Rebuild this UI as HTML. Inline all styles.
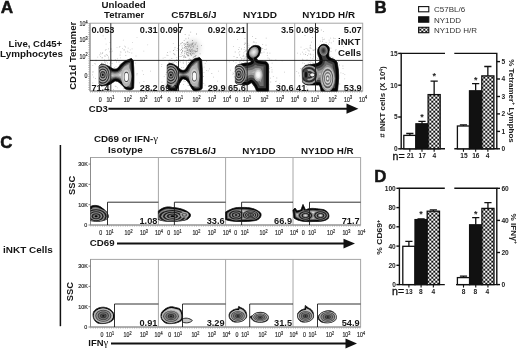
<!DOCTYPE html>
<html lang="en">
<head>
<meta charset="utf-8">
<title>Figure</title>
<style>
html,body{margin:0;padding:0;background:#fff;}
body{width:520px;height:349px;overflow:hidden;}
svg{display:block;font-family:"Liberation Sans",sans-serif;}
</style>
</head>
<body>
<svg width="520" height="349" viewBox="0 0 520 349">
<defs>
<pattern id="ck" x="1.3" y="0.7" width="4" height="4" patternUnits="userSpaceOnUse">
<rect width="4" height="4" fill="#111"/>
<rect x="0" y="0" width="2" height="2" fill="#fff"/>
<rect x="2" y="2" width="2" height="2" fill="#fff"/>
</pattern>
<filter id="bl" x="-50%" y="-50%" width="200%" height="200%"><feGaussianBlur stdDeviation="2.5"/></filter>
<clipPath id="b1"><path d="M99.2,66 L101.5,64 C106,64.6 109,66.5 111.5,68 C114,69.6 116,69.6 118,68 C121,64 124,61 127,60.2 L131.5,58.5 L133.3,61 C134,70 134,80 133.6,88 C132,90.5 128,90 125.5,89 C123,86 122,85 120.5,83.6 C118,81 116,80.6 114.5,81.2 C112,83 110,84.4 108,85 L101,86 L99.2,84 Z"/></clipPath>
<clipPath id="b2"><path d="M167.3,65 L169.7,63.2 C173.7,63.8 176.7,66 179.2,68.4 C181.7,70.8 183.7,71 185.7,69.2 C188.7,64 191.7,60 195.2,58.6 L199.7,57.6 L201.6,60 C202.5,70 202.5,80 202.1,88.5 C200.2,91 195.7,91 193.2,90.4 C190.7,87 189.7,84.4 188.2,82 C185.7,79 183.7,78.4 182.2,79.2 C179.7,81.6 178.7,86 176.7,90.4 L169.2,90.4 L167.3,86 Z"/></clipPath>
<clipPath id="b3"><path d="M235.4,67.5 L236.5,65.5 C239.6,64.4 242.6,63.6 245.0,63.2 C247.6,63 250.0,63 251.2,61.7 C251.0,60 249.4,59.6 248.9,59.3 C247.2,57.4 246.6,55.2 247.3,53.2 C248.6,49 251.6,45.6 255.1,45.4 C258.2,45.3 260.8,46.4 260.8,48.5 C260.8,51.4 259.8,53.6 259.0,55.5 C258.2,56.8 257.0,57.6 256.6,58.3 C256.8,59.8 258.0,60.6 259.0,60.9 L265.9,61.7 C267.6,62.6 268.6,64.4 268.6,66.3 L268.6,91 L256.6,91 C255.6,88 254.2,85 251.2,82.6 C250.0,83.6 248.6,84.6 247.3,84.9 L237.3,84.1 L235.4,82.6 Z"/></clipPath>
<clipPath id="b4"><path d="M302.2,68.6 L305.3,65.5 C308.7,64.6 312.7,64.4 315.3,64 C318.3,63.4 320.3,62 320.0,60.1 C319.3,57 317.3,54 317.7,50.8 C318.3,47 320.7,44.3 323.9,44.3 C327.3,44.4 329.5,46.6 329.3,49.3 C329.1,52 328.3,54.4 328.8,56.3 C329.7,58.4 332.1,58.6 333.9,59.3 C336.3,60.4 337.5,62.6 337.5,64.8 C338.5,70 338.7,74 338.6,78.7 L337.5,91 L321.1,91 C320.7,88.6 320.3,86.4 319.2,84.9 L307.6,84.9 C305.1,84.4 303.3,83.4 302.5,81.8 Z"/></clipPath>
<clipPath id="b5"><path d="M90.5,206.6 C93.5,204.8 98.5,205 101.5,207.6 C105.5,210.6 109.0,213.6 108.1,217.6 C105.5,221.6 96.5,222 90.5,220.6 Z"/></clipPath>
<clipPath id="b6"><path d="M158.4,211 C162.4,207.5 167.4,206 172.4,207.5 C178.4,208 184.4,209 189.4,213 C191.9,215.5 189.4,219 185.4,220 C176.4,222 164.4,222 158.4,219.5 Z"/></clipPath>
<clipPath id="b7"><path d="M225.6,212 C230.6,209 235.6,207 241.6,207.5 C249.6,207 256.6,209 260.6,213 C262.1,216 259.6,219.5 255.6,220.5 C245.6,222 231.6,222 225.6,219.5 Z"/></clipPath>
<clipPath id="b8"><path d="M293.0,210 L295.0,208 L297.0,211 L301.0,210 L303.0,204.5 L305.5,210 C311.0,207 317.0,209 323.0,209.5 C327.0,210.5 330.0,214 328.5,218 C326.0,221.5 319.0,221.5 313.0,221.5 C305.0,222 298.0,221 294.0,218 Z"/></clipPath>
<clipPath id="b9"><path d="M93.5,312 C95.5,308.5 100.5,306.5 105.5,307.5 C111.5,309 115.0,313 114.0,318 C112.5,322.5 105.5,324 99.5,323.5 C94.5,322.5 92.0,317 93.5,312 Z"/></clipPath>
<clipPath id="b10"><path d="M161.4,313 C163.4,309 169.4,306 173.4,307 L179.4,308.5 C182.4,311 182.9,316 182.4,319 C180.4,323 172.4,324 167.4,323.5 C162.4,322.5 159.9,318 161.4,313 Z"/></clipPath>
<clipPath id="b11"><path d="M229.6,313 C231.6,310 235.6,308.5 238.1,309 L238.6,306.5 L241.6,308 C245.6,309.5 247.1,313 246.6,317 C244.6,321.5 238.6,322.5 234.6,322 C230.1,321 228.1,317 229.6,313 Z"/></clipPath>
<clipPath id="b12"><path d="M249.9,317 L252.6,315.5 C255.6,312 261.6,311.5 265.6,313.5 C269.1,315.5 269.1,319 266.6,321 C262.6,323 255.6,322.5 253.1,320.5 Z"/></clipPath>
<clipPath id="b13"><path d="M298.0,313 C300.0,310 303.0,309 305.0,309 L305.3,305.5 L308.5,308 C312.5,309.5 314.0,313 313.5,317 C312.0,321.5 306.0,322.5 302.5,322 C298.5,321 296.5,317 298.0,313 Z"/></clipPath>
<clipPath id="b14"><path d="M318.3,316.5 C320.0,312.5 326.0,310 331.0,311 C336.0,312.5 337.5,317 335.5,320 C332.0,323.5 324.0,323.5 320.5,321.5 C318.5,320 317.8,318 318.3,316.5 Z"/></clipPath>
</defs>
<rect width="520" height="349" fill="#fff"/>
<text x="0.7" y="13" font-size="16.8" font-weight="bold" textLength="12.4" lengthAdjust="spacingAndGlyphs" fill="#151515" stroke="#151515" stroke-width="0.5">A</text>
<text x="374.6" y="13.3" font-size="16.8" font-weight="bold" fill="#151515" stroke="#151515" stroke-width="0.5">B</text>
<text x="0.3" y="147.6" font-size="16.8" font-weight="bold" fill="#151515" stroke="#151515" stroke-width="0.5">C</text>
<text x="374.2" y="182.2" font-size="16.8" font-weight="bold" fill="#151515" stroke="#151515" stroke-width="0.5">D</text>
<text x="8.6" y="46.7" font-size="9.5" font-weight="bold" textLength="53.6" lengthAdjust="spacingAndGlyphs" fill="#151515">Live, Cd45+</text>
<text x="0.1" y="57.4" font-size="9.5" font-weight="bold" textLength="62.9" lengthAdjust="spacingAndGlyphs" fill="#151515">Lymphocytes</text>
<text x="76" y="89.8" font-size="9.5" font-weight="bold" textLength="68" lengthAdjust="spacingAndGlyphs" transform="rotate(-90 76 89.8)" fill="#151515">CD1d Tetramer</text>
<text x="101.5" y="7.6" font-size="9.5" font-weight="bold" textLength="44.2" lengthAdjust="spacingAndGlyphs" fill="#151515">Unloaded</text>
<text x="104.0" y="18.4" font-size="9.5" font-weight="bold" textLength="40.2" lengthAdjust="spacingAndGlyphs" fill="#151515">Tetramer</text>
<text x="171.2" y="18.4" font-size="9.5" font-weight="bold" textLength="45.4" lengthAdjust="spacingAndGlyphs" fill="#151515">C57BL6/J</text>
<text x="242.9" y="18.4" font-size="9.5" font-weight="bold" textLength="34" lengthAdjust="spacingAndGlyphs" fill="#151515">NY1DD</text>
<text x="302.2" y="18.1" font-size="9.5" font-weight="bold" textLength="52.8" lengthAdjust="spacingAndGlyphs" fill="#151515">NY1DD H/R</text>
<g fill="none" stroke="#a6a6a6" stroke-width="1">
<rect x="90" y="23.2" width="272.7" height="67.8"/>
<line x1="158.7" y1="23.2" x2="158.7" y2="91"/>
<line x1="226.6" y1="23.2" x2="226.6" y2="91"/>
<line x1="294.7" y1="23.2" x2="294.7" y2="91"/>
</g>
<path d="M89 23.2V91" stroke="#8a8a8a" stroke-width="1.2" stroke-dasharray="0.7 1.5" fill="none"/>
<path d="M90 92H362.7" stroke="#8a8a8a" stroke-width="1.2" stroke-dasharray="0.7 1.6" fill="none"/>
<path d="M90 23.2V91H362.7" stroke="#8c8c8c" stroke-width="1" fill="none"/>
<path d="M103.6 68.9h0.8v0.8h-0.8zM108.2 70.5h0.8v0.8h-0.8zM125.4 55.1h0.8v0.8h-0.8zM111.6 68.7h0.8v0.8h-0.8zM104.5 72.7h0.8v0.8h-0.8zM119.9 73.9h0.8v0.8h-0.8zM127.3 62.5h0.8v0.8h-0.8zM108.2 80.1h0.8v0.8h-0.8zM109.5 63.2h0.8v0.8h-0.8zM108.5 59.1h0.8v0.8h-0.8zM130.9 87.9h0.8v0.8h-0.8zM150.1 70.8h0.8v0.8h-0.8zM113.0 71.8h0.8v0.8h-0.8zM123.0 74.2h0.8v0.8h-0.8zM126.3 70.6h0.8v0.8h-0.8zM109.5 86.8h0.8v0.8h-0.8zM111.6 75.6h0.8v0.8h-0.8zM94.4 63.3h0.8v0.8h-0.8zM121.1 80.5h0.8v0.8h-0.8zM113.0 75.6h0.8v0.8h-0.8zM92.0 74.4h0.8v0.8h-0.8zM107.2 62.6h0.8v0.8h-0.8zM120.5 69.1h0.8v0.8h-0.8zM104.5 69.6h0.8v0.8h-0.8zM110.9 70.8h0.8v0.8h-0.8zM116.9 69.1h0.8v0.8h-0.8zM129.1 70.2h0.8v0.8h-0.8zM107.6 78.2h0.8v0.8h-0.8zM113.2 89.1h0.8v0.8h-0.8zM118.8 79.0h0.8v0.8h-0.8zM108.5 75.8h0.8v0.8h-0.8zM101.7 57.6h0.8v0.8h-0.8zM118.6 61.6h0.8v0.8h-0.8zM108.0 83.6h0.8v0.8h-0.8zM136.5 74.5h0.8v0.8h-0.8zM110.4 82.4h0.8v0.8h-0.8zM128.4 79.8h0.8v0.8h-0.8zM104.8 68.6h0.8v0.8h-0.8zM129.3 62.0h0.8v0.8h-0.8zM116.9 87.4h0.8v0.8h-0.8zM129.3 66.9h0.8v0.8h-0.8zM112.2 71.6h0.8v0.8h-0.8zM101.6 74.8h0.8v0.8h-0.8zM105.0 80.7h0.8v0.8h-0.8zM102.1 67.0h0.8v0.8h-0.8zM108.2 74.4h0.8v0.8h-0.8zM113.0 75.5h0.8v0.8h-0.8zM132.1 74.2h0.8v0.8h-0.8zM121.4 75.5h0.8v0.8h-0.8zM127.1 81.6h0.8v0.8h-0.8zM131.0 73.4h0.8v0.8h-0.8zM102.5 77.0h0.8v0.8h-0.8zM101.8 73.9h0.8v0.8h-0.8zM111.9 50.8h0.8v0.8h-0.8zM111.6 63.1h0.8v0.8h-0.8zM99.2 54.5h0.8v0.8h-0.8zM121.4 80.7h0.8v0.8h-0.8zM101.5 62.6h0.8v0.8h-0.8zM105.2 62.6h0.8v0.8h-0.8zM123.1 63.0h0.8v0.8h-0.8zM127.8 47.7h0.8v0.8h-0.8zM92.4 82.6h0.8v0.8h-0.8zM110.6 51.4h0.8v0.8h-0.8zM143.5 81.0h0.8v0.8h-0.8zM119.5 46.0h0.8v0.8h-0.8zM126.6 72.9h0.8v0.8h-0.8zM112.5 68.7h0.8v0.8h-0.8zM91.9 60.1h0.8v0.8h-0.8zM120.3 83.5h0.8v0.8h-0.8zM123.5 77.5h0.8v0.8h-0.8zM117.5 78.8h0.8v0.8h-0.8zM143.2 74.0h0.8v0.8h-0.8zM95.1 78.1h0.8v0.8h-0.8zM110.7 61.4h0.8v0.8h-0.8zM99.0 81.5h0.8v0.8h-0.8zM106.4 71.0h0.8v0.8h-0.8zM104.0 85.6h0.8v0.8h-0.8zM109.8 68.6h0.8v0.8h-0.8zM95.6 59.7h0.8v0.8h-0.8zM129.1 62.4h0.8v0.8h-0.8zM128.3 78.9h0.8v0.8h-0.8zM119.7 76.0h0.8v0.8h-0.8zM115.6 86.1h0.8v0.8h-0.8zM117.1 58.5h0.8v0.8h-0.8zM100.5 73.5h0.8v0.8h-0.8zM114.8 85.8h0.8v0.8h-0.8zM104.6 88.9h0.8v0.8h-0.8zM101.9 75.3h0.8v0.8h-0.8zM101.3 75.8h0.8v0.8h-0.8zM108.3 57.7h0.8v0.8h-0.8zM120.2 63.4h0.8v0.8h-0.8zM125.1 46.6h0.8v0.8h-0.8zM136.7 73.2h0.8v0.8h-0.8zM139.1 82.5h0.8v0.8h-0.8zM117.2 72.3h0.8v0.8h-0.8zM110.6 82.6h0.8v0.8h-0.8zM114.9 58.9h0.8v0.8h-0.8zM114.3 80.9h0.8v0.8h-0.8zM118.9 78.3h0.8v0.8h-0.8zM123.7 49.1h0.8v0.8h-0.8zM124.1 71.8h0.8v0.8h-0.8zM103.4 68.8h0.8v0.8h-0.8zM141.9 70.5h0.8v0.8h-0.8zM124.7 74.7h0.8v0.8h-0.8zM125.8 62.3h0.8v0.8h-0.8zM92.6 71.1h0.8v0.8h-0.8zM118.9 46.7h0.8v0.8h-0.8zM114.1 77.0h0.8v0.8h-0.8zM114.5 70.7h0.8v0.8h-0.8zM92.4 65.3h0.8v0.8h-0.8zM101.9 83.0h0.8v0.8h-0.8zM119.6 79.7h0.8v0.8h-0.8zM95.6 60.4h0.8v0.8h-0.8zM119.3 74.0h0.8v0.8h-0.8zM129.7 67.7h0.8v0.8h-0.8zM108.4 83.0h0.8v0.8h-0.8zM105.4 69.2h0.8v0.8h-0.8zM111.2 59.5h0.8v0.8h-0.8zM109.5 42.3h0.8v0.8h-0.8zM121.2 64.9h0.8v0.8h-0.8zM102.6 69.6h0.8v0.8h-0.8zM120.7 85.0h0.8v0.8h-0.8zM123.1 88.4h0.8v0.8h-0.8zM119.3 64.0h0.8v0.8h-0.8zM113.0 76.5h0.8v0.8h-0.8zM126.6 77.0h0.8v0.8h-0.8zM119.9 72.9h0.8v0.8h-0.8zM124.2 88.0h0.8v0.8h-0.8zM110.7 79.4h0.8v0.8h-0.8zM119.6 72.9h0.8v0.8h-0.8zM104.8 67.3h0.8v0.8h-0.8zM111.2 80.0h0.8v0.8h-0.8zM122.9 83.6h0.8v0.8h-0.8zM116.2 61.6h0.8v0.8h-0.8zM120.6 51.7h0.8v0.8h-0.8zM104.2 68.4h0.8v0.8h-0.8zM111.5 77.1h0.8v0.8h-0.8zM122.3 72.6h0.8v0.8h-0.8z" fill="#555" opacity="0.4"/>
<path d="M109.1 51.5h0.8v0.8h-0.8zM104.9 38.4h0.8v0.8h-0.8zM103.6 74.2h0.8v0.8h-0.8zM110.7 48.6h0.8v0.8h-0.8zM101.8 57.3h0.8v0.8h-0.8zM93.2 76.8h0.8v0.8h-0.8zM106.8 65.3h0.8v0.8h-0.8zM108.2 56.6h0.8v0.8h-0.8zM104.9 68.4h0.8v0.8h-0.8zM107.0 55.1h0.8v0.8h-0.8zM99.0 66.2h0.8v0.8h-0.8zM105.6 49.1h0.8v0.8h-0.8zM108.6 66.4h0.8v0.8h-0.8zM105.7 61.0h0.8v0.8h-0.8zM106.3 74.3h0.8v0.8h-0.8zM102.7 75.0h0.8v0.8h-0.8zM105.0 64.3h0.8v0.8h-0.8zM110.2 62.3h0.8v0.8h-0.8zM105.8 54.5h0.8v0.8h-0.8zM104.1 61.6h0.8v0.8h-0.8zM101.9 53.3h0.8v0.8h-0.8zM107.8 70.9h0.8v0.8h-0.8zM100.5 53.6h0.8v0.8h-0.8zM107.3 71.7h0.8v0.8h-0.8zM100.0 56.3h0.8v0.8h-0.8zM108.7 79.8h0.8v0.8h-0.8zM108.0 48.4h0.8v0.8h-0.8zM109.3 59.7h0.8v0.8h-0.8zM102.9 64.1h0.8v0.8h-0.8zM100.2 52.4h0.8v0.8h-0.8zM92.5 72.2h0.8v0.8h-0.8zM105.1 55.8h0.8v0.8h-0.8zM104.2 59.6h0.8v0.8h-0.8zM102.0 52.9h0.8v0.8h-0.8zM102.7 35.5h0.8v0.8h-0.8zM97.3 56.8h0.8v0.8h-0.8zM109.6 65.0h0.8v0.8h-0.8zM107.3 67.4h0.8v0.8h-0.8zM103.2 63.4h0.8v0.8h-0.8zM104.0 55.6h0.8v0.8h-0.8z" fill="#555" opacity="0.4"/>
<path d="M168.8 78.2h0.8v0.8h-0.8zM197.6 68.4h0.8v0.8h-0.8zM167.4 73.3h0.8v0.8h-0.8zM190.9 86.1h0.8v0.8h-0.8zM168.9 59.8h0.8v0.8h-0.8zM193.9 79.2h0.8v0.8h-0.8zM204.6 84.8h0.8v0.8h-0.8zM183.4 71.0h0.8v0.8h-0.8zM218.1 70.8h0.8v0.8h-0.8zM174.5 61.5h0.8v0.8h-0.8zM185.9 75.6h0.8v0.8h-0.8zM180.2 73.3h0.8v0.8h-0.8zM188.3 81.6h0.8v0.8h-0.8zM199.0 76.3h0.8v0.8h-0.8zM161.4 81.7h0.8v0.8h-0.8zM166.2 72.1h0.8v0.8h-0.8zM165.5 74.0h0.8v0.8h-0.8zM174.6 76.4h0.8v0.8h-0.8zM195.7 59.4h0.8v0.8h-0.8zM181.0 81.3h0.8v0.8h-0.8zM183.5 78.1h0.8v0.8h-0.8zM186.0 62.9h0.8v0.8h-0.8zM192.0 65.1h0.8v0.8h-0.8zM209.0 68.4h0.8v0.8h-0.8zM193.6 74.0h0.8v0.8h-0.8zM197.1 67.4h0.8v0.8h-0.8zM197.7 72.6h0.8v0.8h-0.8zM201.1 80.9h0.8v0.8h-0.8zM186.5 65.4h0.8v0.8h-0.8zM194.7 79.1h0.8v0.8h-0.8zM206.0 69.9h0.8v0.8h-0.8zM191.9 79.6h0.8v0.8h-0.8zM188.4 76.3h0.8v0.8h-0.8zM187.1 67.4h0.8v0.8h-0.8zM171.5 69.6h0.8v0.8h-0.8zM197.4 85.6h0.8v0.8h-0.8zM194.8 81.7h0.8v0.8h-0.8zM187.1 82.5h0.8v0.8h-0.8zM207.8 70.4h0.8v0.8h-0.8zM187.9 84.7h0.8v0.8h-0.8zM196.1 61.5h0.8v0.8h-0.8zM187.0 82.3h0.8v0.8h-0.8zM186.3 64.3h0.8v0.8h-0.8zM183.2 78.1h0.8v0.8h-0.8zM199.2 81.8h0.8v0.8h-0.8zM185.5 88.9h0.8v0.8h-0.8zM174.8 82.7h0.8v0.8h-0.8zM199.2 70.8h0.8v0.8h-0.8zM161.4 64.0h0.8v0.8h-0.8zM187.8 79.8h0.8v0.8h-0.8zM204.8 63.0h0.8v0.8h-0.8zM184.7 81.1h0.8v0.8h-0.8zM182.6 47.9h0.8v0.8h-0.8zM197.8 63.9h0.8v0.8h-0.8zM179.3 76.4h0.8v0.8h-0.8zM217.1 80.8h0.8v0.8h-0.8zM175.8 68.8h0.8v0.8h-0.8zM194.1 89.7h0.8v0.8h-0.8zM193.2 77.3h0.8v0.8h-0.8zM161.0 66.2h0.8v0.8h-0.8zM176.8 68.1h0.8v0.8h-0.8zM192.3 70.3h0.8v0.8h-0.8zM194.9 74.9h0.8v0.8h-0.8zM180.4 75.3h0.8v0.8h-0.8zM190.3 83.4h0.8v0.8h-0.8zM178.5 71.4h0.8v0.8h-0.8zM203.6 72.0h0.8v0.8h-0.8zM178.5 60.4h0.8v0.8h-0.8zM186.9 76.3h0.8v0.8h-0.8zM213.1 76.7h0.8v0.8h-0.8zM174.6 47.1h0.8v0.8h-0.8zM203.0 76.1h0.8v0.8h-0.8zM163.8 76.0h0.8v0.8h-0.8zM199.2 80.3h0.8v0.8h-0.8zM182.4 50.5h0.8v0.8h-0.8zM183.1 56.9h0.8v0.8h-0.8zM192.5 50.5h0.8v0.8h-0.8zM172.9 87.4h0.8v0.8h-0.8zM206.1 61.0h0.8v0.8h-0.8zM164.8 83.7h0.8v0.8h-0.8zM195.8 63.1h0.8v0.8h-0.8zM175.7 66.4h0.8v0.8h-0.8zM169.2 66.5h0.8v0.8h-0.8zM201.0 81.6h0.8v0.8h-0.8zM211.4 73.1h0.8v0.8h-0.8zM182.9 63.2h0.8v0.8h-0.8zM183.1 59.6h0.8v0.8h-0.8zM161.6 81.7h0.8v0.8h-0.8zM203.4 83.2h0.8v0.8h-0.8zM202.0 76.8h0.8v0.8h-0.8zM175.4 74.9h0.8v0.8h-0.8zM179.8 61.8h0.8v0.8h-0.8zM162.7 57.7h0.8v0.8h-0.8zM184.6 75.7h0.8v0.8h-0.8zM178.5 89.7h0.8v0.8h-0.8zM187.0 80.4h0.8v0.8h-0.8zM200.5 65.0h0.8v0.8h-0.8zM175.8 88.4h0.8v0.8h-0.8zM189.1 85.1h0.8v0.8h-0.8zM194.6 51.1h0.8v0.8h-0.8zM194.0 66.6h0.8v0.8h-0.8zM174.9 69.2h0.8v0.8h-0.8zM194.7 83.7h0.8v0.8h-0.8zM197.8 55.7h0.8v0.8h-0.8zM177.0 47.9h0.8v0.8h-0.8zM183.4 80.6h0.8v0.8h-0.8zM174.8 76.7h0.8v0.8h-0.8zM187.7 85.1h0.8v0.8h-0.8zM174.0 64.9h0.8v0.8h-0.8zM198.9 72.6h0.8v0.8h-0.8zM187.6 75.3h0.8v0.8h-0.8zM187.3 71.7h0.8v0.8h-0.8zM180.4 60.2h0.8v0.8h-0.8zM191.7 74.7h0.8v0.8h-0.8zM181.9 74.7h0.8v0.8h-0.8zM189.3 66.9h0.8v0.8h-0.8zM187.3 76.6h0.8v0.8h-0.8zM175.0 65.3h0.8v0.8h-0.8zM171.7 62.3h0.8v0.8h-0.8zM196.3 48.0h0.8v0.8h-0.8zM181.2 67.3h0.8v0.8h-0.8zM176.6 75.1h0.8v0.8h-0.8zM199.4 74.8h0.8v0.8h-0.8zM182.9 67.3h0.8v0.8h-0.8zM183.0 84.0h0.8v0.8h-0.8zM179.6 61.4h0.8v0.8h-0.8zM168.3 61.8h0.8v0.8h-0.8zM166.6 86.1h0.8v0.8h-0.8zM189.3 71.4h0.8v0.8h-0.8zM203.7 66.8h0.8v0.8h-0.8zM194.5 82.8h0.8v0.8h-0.8zM164.6 56.9h0.8v0.8h-0.8zM172.6 84.0h0.8v0.8h-0.8zM201.5 60.5h0.8v0.8h-0.8zM198.3 69.8h0.8v0.8h-0.8zM179.6 67.9h0.8v0.8h-0.8zM180.5 54.0h0.8v0.8h-0.8zM171.7 60.4h0.8v0.8h-0.8z" fill="#555" opacity="0.4"/>
<path d="M175.8 73.2h0.8v0.8h-0.8zM169.7 51.4h0.8v0.8h-0.8zM174.2 77.3h0.8v0.8h-0.8zM174.4 48.8h0.8v0.8h-0.8zM169.8 59.8h0.8v0.8h-0.8zM176.6 60.2h0.8v0.8h-0.8zM171.4 58.1h0.8v0.8h-0.8zM173.5 53.0h0.8v0.8h-0.8zM172.8 62.9h0.8v0.8h-0.8zM179.3 59.7h0.8v0.8h-0.8zM176.6 50.2h0.8v0.8h-0.8zM176.2 61.9h0.8v0.8h-0.8zM170.7 60.1h0.8v0.8h-0.8zM176.4 57.2h0.8v0.8h-0.8zM176.9 75.2h0.8v0.8h-0.8zM179.2 76.2h0.8v0.8h-0.8zM167.8 63.7h0.8v0.8h-0.8zM170.2 69.6h0.8v0.8h-0.8zM173.1 62.5h0.8v0.8h-0.8zM174.6 54.5h0.8v0.8h-0.8zM173.2 53.3h0.8v0.8h-0.8zM181.0 55.9h0.8v0.8h-0.8zM172.9 43.0h0.8v0.8h-0.8zM167.0 52.1h0.8v0.8h-0.8zM176.0 67.9h0.8v0.8h-0.8zM173.9 54.1h0.8v0.8h-0.8zM180.1 50.3h0.8v0.8h-0.8zM169.5 65.1h0.8v0.8h-0.8zM168.9 63.0h0.8v0.8h-0.8zM176.7 59.7h0.8v0.8h-0.8zM174.4 60.7h0.8v0.8h-0.8zM170.2 29.2h0.8v0.8h-0.8zM168.0 60.3h0.8v0.8h-0.8zM166.4 54.8h0.8v0.8h-0.8zM173.7 73.5h0.8v0.8h-0.8zM167.5 55.1h0.8v0.8h-0.8zM173.7 65.5h0.8v0.8h-0.8zM167.4 78.7h0.8v0.8h-0.8zM169.6 71.1h0.8v0.8h-0.8zM172.0 64.4h0.8v0.8h-0.8z" fill="#555" opacity="0.4"/>
<path d="M233.8 76.6h0.8v0.8h-0.8zM249.0 68.7h0.8v0.8h-0.8zM265.2 74.7h0.8v0.8h-0.8zM246.2 60.1h0.8v0.8h-0.8zM234.7 68.2h0.8v0.8h-0.8zM261.2 83.4h0.8v0.8h-0.8zM275.0 81.3h0.8v0.8h-0.8zM270.3 81.6h0.8v0.8h-0.8zM245.7 83.6h0.8v0.8h-0.8zM254.0 72.2h0.8v0.8h-0.8zM279.4 83.1h0.8v0.8h-0.8zM246.9 73.7h0.8v0.8h-0.8zM284.0 71.8h0.8v0.8h-0.8zM263.0 81.5h0.8v0.8h-0.8zM260.0 81.1h0.8v0.8h-0.8zM247.0 69.5h0.8v0.8h-0.8zM251.2 70.6h0.8v0.8h-0.8zM241.6 80.7h0.8v0.8h-0.8zM240.4 66.9h0.8v0.8h-0.8zM250.2 75.8h0.8v0.8h-0.8zM247.6 45.5h0.8v0.8h-0.8zM271.6 71.6h0.8v0.8h-0.8zM244.9 82.2h0.8v0.8h-0.8zM245.5 58.7h0.8v0.8h-0.8zM259.8 79.3h0.8v0.8h-0.8zM242.4 84.0h0.8v0.8h-0.8zM258.2 62.0h0.8v0.8h-0.8zM276.4 77.6h0.8v0.8h-0.8zM238.4 79.7h0.8v0.8h-0.8zM255.0 85.4h0.8v0.8h-0.8zM235.5 86.2h0.8v0.8h-0.8zM265.7 82.4h0.8v0.8h-0.8zM261.4 89.3h0.8v0.8h-0.8zM262.8 76.0h0.8v0.8h-0.8zM242.3 87.0h0.8v0.8h-0.8zM266.3 77.9h0.8v0.8h-0.8zM255.3 82.7h0.8v0.8h-0.8zM247.1 79.4h0.8v0.8h-0.8zM252.3 49.7h0.8v0.8h-0.8zM262.9 74.4h0.8v0.8h-0.8zM254.1 64.0h0.8v0.8h-0.8zM252.7 75.4h0.8v0.8h-0.8zM270.1 77.8h0.8v0.8h-0.8zM249.7 73.9h0.8v0.8h-0.8zM261.7 60.3h0.8v0.8h-0.8zM254.6 87.4h0.8v0.8h-0.8zM234.5 76.2h0.8v0.8h-0.8zM258.7 70.0h0.8v0.8h-0.8zM232.6 72.4h0.8v0.8h-0.8zM250.1 66.7h0.8v0.8h-0.8zM250.4 82.2h0.8v0.8h-0.8zM244.5 58.5h0.8v0.8h-0.8zM244.1 77.9h0.8v0.8h-0.8zM235.7 68.3h0.8v0.8h-0.8zM281.7 60.4h0.8v0.8h-0.8zM253.5 62.6h0.8v0.8h-0.8zM228.8 61.5h0.8v0.8h-0.8zM256.8 59.9h0.8v0.8h-0.8zM245.4 82.6h0.8v0.8h-0.8zM251.1 59.9h0.8v0.8h-0.8zM272.9 75.9h0.8v0.8h-0.8zM271.7 62.8h0.8v0.8h-0.8zM275.4 59.5h0.8v0.8h-0.8zM230.2 69.8h0.8v0.8h-0.8zM248.3 77.4h0.8v0.8h-0.8zM245.8 81.6h0.8v0.8h-0.8zM270.8 67.2h0.8v0.8h-0.8zM235.1 70.0h0.8v0.8h-0.8zM264.0 83.6h0.8v0.8h-0.8zM248.6 63.5h0.8v0.8h-0.8zM253.0 85.2h0.8v0.8h-0.8zM243.8 89.0h0.8v0.8h-0.8zM256.2 77.7h0.8v0.8h-0.8zM244.9 89.7h0.8v0.8h-0.8zM253.8 57.9h0.8v0.8h-0.8zM264.0 69.8h0.8v0.8h-0.8zM267.4 76.4h0.8v0.8h-0.8zM244.9 76.4h0.8v0.8h-0.8zM246.7 65.3h0.8v0.8h-0.8zM253.4 83.8h0.8v0.8h-0.8zM254.1 73.5h0.8v0.8h-0.8zM245.9 80.9h0.8v0.8h-0.8zM256.8 85.2h0.8v0.8h-0.8zM232.5 73.9h0.8v0.8h-0.8zM260.2 84.5h0.8v0.8h-0.8zM233.0 60.9h0.8v0.8h-0.8zM252.6 86.2h0.8v0.8h-0.8zM267.6 57.6h0.8v0.8h-0.8zM254.9 87.5h0.8v0.8h-0.8zM253.5 63.0h0.8v0.8h-0.8zM243.7 59.6h0.8v0.8h-0.8zM268.9 71.6h0.8v0.8h-0.8zM247.5 64.7h0.8v0.8h-0.8zM251.3 64.4h0.8v0.8h-0.8zM240.3 74.0h0.8v0.8h-0.8zM250.1 79.6h0.8v0.8h-0.8zM255.1 87.6h0.8v0.8h-0.8zM252.6 77.4h0.8v0.8h-0.8zM256.1 65.5h0.8v0.8h-0.8zM268.8 68.2h0.8v0.8h-0.8zM232.3 88.3h0.8v0.8h-0.8zM261.7 68.2h0.8v0.8h-0.8zM265.7 85.2h0.8v0.8h-0.8zM262.4 61.4h0.8v0.8h-0.8zM255.5 62.9h0.8v0.8h-0.8zM245.1 68.2h0.8v0.8h-0.8zM242.0 79.9h0.8v0.8h-0.8zM242.8 81.4h0.8v0.8h-0.8zM255.4 67.7h0.8v0.8h-0.8zM255.4 82.1h0.8v0.8h-0.8zM268.2 71.6h0.8v0.8h-0.8zM275.9 80.8h0.8v0.8h-0.8zM269.5 59.4h0.8v0.8h-0.8zM239.2 87.9h0.8v0.8h-0.8zM250.2 79.6h0.8v0.8h-0.8zM268.9 58.4h0.8v0.8h-0.8zM263.6 75.5h0.8v0.8h-0.8zM260.5 74.5h0.8v0.8h-0.8zM263.3 88.9h0.8v0.8h-0.8zM250.2 80.8h0.8v0.8h-0.8zM257.1 82.7h0.8v0.8h-0.8zM264.1 62.6h0.8v0.8h-0.8zM268.4 84.0h0.8v0.8h-0.8zM238.8 71.3h0.8v0.8h-0.8zM234.0 71.2h0.8v0.8h-0.8zM257.4 61.6h0.8v0.8h-0.8zM243.0 64.7h0.8v0.8h-0.8zM244.0 65.9h0.8v0.8h-0.8zM239.1 80.8h0.8v0.8h-0.8zM250.3 65.3h0.8v0.8h-0.8zM266.1 68.2h0.8v0.8h-0.8zM264.9 60.7h0.8v0.8h-0.8zM271.6 69.5h0.8v0.8h-0.8zM240.7 79.0h0.8v0.8h-0.8zM235.6 62.5h0.8v0.8h-0.8z" fill="#555" opacity="0.4"/>
<path d="M242.7 58.6h0.8v0.8h-0.8zM255.0 65.4h0.8v0.8h-0.8zM241.4 64.6h0.8v0.8h-0.8zM238.5 52.5h0.8v0.8h-0.8zM242.8 55.4h0.8v0.8h-0.8zM244.0 57.8h0.8v0.8h-0.8zM233.1 46.2h0.8v0.8h-0.8zM237.0 39.2h0.8v0.8h-0.8zM240.3 57.0h0.8v0.8h-0.8zM244.5 50.9h0.8v0.8h-0.8zM239.6 66.0h0.8v0.8h-0.8zM243.7 49.3h0.8v0.8h-0.8zM247.0 53.4h0.8v0.8h-0.8zM245.6 56.9h0.8v0.8h-0.8zM238.8 47.0h0.8v0.8h-0.8zM240.1 85.0h0.8v0.8h-0.8zM237.9 76.1h0.8v0.8h-0.8zM246.2 55.9h0.8v0.8h-0.8zM245.3 74.6h0.8v0.8h-0.8zM239.3 54.4h0.8v0.8h-0.8zM245.3 63.7h0.8v0.8h-0.8zM249.5 64.6h0.8v0.8h-0.8zM235.8 59.5h0.8v0.8h-0.8zM235.6 67.9h0.8v0.8h-0.8zM243.6 55.7h0.8v0.8h-0.8zM236.9 69.4h0.8v0.8h-0.8zM239.0 72.9h0.8v0.8h-0.8zM236.5 57.1h0.8v0.8h-0.8zM238.3 49.1h0.8v0.8h-0.8zM252.0 77.7h0.8v0.8h-0.8zM238.0 68.4h0.8v0.8h-0.8zM233.1 73.2h0.8v0.8h-0.8zM245.2 56.5h0.8v0.8h-0.8zM239.1 62.6h0.8v0.8h-0.8zM242.5 56.3h0.8v0.8h-0.8zM237.1 57.3h0.8v0.8h-0.8zM238.8 68.3h0.8v0.8h-0.8zM241.0 62.6h0.8v0.8h-0.8zM233.6 56.1h0.8v0.8h-0.8zM239.0 54.6h0.8v0.8h-0.8z" fill="#555" opacity="0.4"/>
<path d="M310.5 54.4h0.8v0.8h-0.8zM324.4 81.3h0.8v0.8h-0.8zM326.3 80.3h0.8v0.8h-0.8zM320.0 68.2h0.8v0.8h-0.8zM311.9 72.5h0.8v0.8h-0.8zM316.9 85.2h0.8v0.8h-0.8zM330.0 61.2h0.8v0.8h-0.8zM331.1 74.8h0.8v0.8h-0.8zM329.3 55.5h0.8v0.8h-0.8zM330.6 57.9h0.8v0.8h-0.8zM342.6 67.9h0.8v0.8h-0.8zM299.0 75.5h0.8v0.8h-0.8zM308.0 69.4h0.8v0.8h-0.8zM311.6 82.8h0.8v0.8h-0.8zM318.2 79.1h0.8v0.8h-0.8zM330.6 56.2h0.8v0.8h-0.8zM340.5 72.5h0.8v0.8h-0.8zM300.3 67.9h0.8v0.8h-0.8zM333.6 86.4h0.8v0.8h-0.8zM313.1 76.4h0.8v0.8h-0.8zM325.3 86.8h0.8v0.8h-0.8zM320.4 86.2h0.8v0.8h-0.8zM310.4 67.2h0.8v0.8h-0.8zM331.0 83.4h0.8v0.8h-0.8zM321.6 82.0h0.8v0.8h-0.8zM324.9 83.9h0.8v0.8h-0.8zM337.6 81.1h0.8v0.8h-0.8zM333.1 70.9h0.8v0.8h-0.8zM314.8 48.9h0.8v0.8h-0.8zM327.6 75.6h0.8v0.8h-0.8zM329.3 54.3h0.8v0.8h-0.8zM315.8 69.0h0.8v0.8h-0.8zM298.3 85.5h0.8v0.8h-0.8zM338.4 61.0h0.8v0.8h-0.8zM306.1 86.4h0.8v0.8h-0.8zM304.1 63.3h0.8v0.8h-0.8zM325.0 88.8h0.8v0.8h-0.8zM305.5 66.8h0.8v0.8h-0.8zM307.4 87.7h0.8v0.8h-0.8zM314.8 81.7h0.8v0.8h-0.8zM330.8 88.3h0.8v0.8h-0.8zM327.8 79.1h0.8v0.8h-0.8zM337.6 80.7h0.8v0.8h-0.8zM305.4 69.2h0.8v0.8h-0.8zM334.3 76.9h0.8v0.8h-0.8zM317.5 78.0h0.8v0.8h-0.8zM328.7 80.4h0.8v0.8h-0.8zM318.6 88.7h0.8v0.8h-0.8zM333.6 79.8h0.8v0.8h-0.8zM304.2 89.5h0.8v0.8h-0.8zM332.4 74.4h0.8v0.8h-0.8zM306.0 72.7h0.8v0.8h-0.8zM315.4 65.9h0.8v0.8h-0.8zM335.7 76.6h0.8v0.8h-0.8zM338.7 64.4h0.8v0.8h-0.8zM326.6 67.1h0.8v0.8h-0.8zM310.3 68.6h0.8v0.8h-0.8zM321.1 83.0h0.8v0.8h-0.8zM324.2 83.8h0.8v0.8h-0.8zM333.4 76.6h0.8v0.8h-0.8zM339.4 83.6h0.8v0.8h-0.8zM319.7 73.4h0.8v0.8h-0.8zM322.0 66.9h0.8v0.8h-0.8zM304.3 75.7h0.8v0.8h-0.8zM315.4 81.9h0.8v0.8h-0.8zM314.2 76.4h0.8v0.8h-0.8zM324.8 69.9h0.8v0.8h-0.8zM324.8 67.1h0.8v0.8h-0.8zM316.5 84.3h0.8v0.8h-0.8zM327.4 75.2h0.8v0.8h-0.8zM311.7 83.1h0.8v0.8h-0.8zM348.8 50.6h0.8v0.8h-0.8zM336.2 77.7h0.8v0.8h-0.8zM336.8 88.4h0.8v0.8h-0.8zM314.2 72.4h0.8v0.8h-0.8zM330.5 74.3h0.8v0.8h-0.8zM325.7 69.4h0.8v0.8h-0.8zM308.3 75.4h0.8v0.8h-0.8zM305.5 51.7h0.8v0.8h-0.8zM304.9 79.2h0.8v0.8h-0.8zM302.6 59.5h0.8v0.8h-0.8zM325.8 70.7h0.8v0.8h-0.8zM331.2 84.3h0.8v0.8h-0.8zM326.8 61.4h0.8v0.8h-0.8zM319.1 78.5h0.8v0.8h-0.8zM323.8 74.9h0.8v0.8h-0.8zM319.8 68.8h0.8v0.8h-0.8zM315.2 52.4h0.8v0.8h-0.8zM344.4 74.0h0.8v0.8h-0.8zM304.6 81.0h0.8v0.8h-0.8zM331.0 58.9h0.8v0.8h-0.8zM329.3 80.0h0.8v0.8h-0.8zM335.4 73.7h0.8v0.8h-0.8zM319.6 74.3h0.8v0.8h-0.8zM330.6 75.6h0.8v0.8h-0.8zM328.9 64.9h0.8v0.8h-0.8zM342.7 73.2h0.8v0.8h-0.8zM310.6 74.9h0.8v0.8h-0.8zM312.4 72.3h0.8v0.8h-0.8zM310.2 82.8h0.8v0.8h-0.8zM326.9 87.4h0.8v0.8h-0.8zM344.3 78.4h0.8v0.8h-0.8zM323.3 78.6h0.8v0.8h-0.8zM311.3 69.0h0.8v0.8h-0.8zM332.1 65.5h0.8v0.8h-0.8zM296.3 71.2h0.8v0.8h-0.8zM312.6 64.6h0.8v0.8h-0.8zM323.4 73.4h0.8v0.8h-0.8zM325.4 69.3h0.8v0.8h-0.8zM324.7 68.6h0.8v0.8h-0.8zM335.2 78.3h0.8v0.8h-0.8zM329.7 70.2h0.8v0.8h-0.8zM303.0 75.3h0.8v0.8h-0.8zM321.3 87.5h0.8v0.8h-0.8zM334.9 74.7h0.8v0.8h-0.8zM321.4 64.0h0.8v0.8h-0.8zM321.5 77.5h0.8v0.8h-0.8zM316.5 62.9h0.8v0.8h-0.8zM339.0 64.7h0.8v0.8h-0.8zM344.0 88.4h0.8v0.8h-0.8zM342.5 65.6h0.8v0.8h-0.8zM330.3 59.5h0.8v0.8h-0.8zM317.2 58.0h0.8v0.8h-0.8zM312.3 69.4h0.8v0.8h-0.8zM334.7 87.2h0.8v0.8h-0.8zM317.1 71.9h0.8v0.8h-0.8zM309.5 62.3h0.8v0.8h-0.8zM298.3 72.6h0.8v0.8h-0.8zM329.8 66.4h0.8v0.8h-0.8zM326.7 62.1h0.8v0.8h-0.8zM308.6 69.0h0.8v0.8h-0.8z" fill="#555" opacity="0.4"/>
<path d="M317.4 48.9h0.8v0.8h-0.8zM310.0 57.4h0.8v0.8h-0.8zM305.2 54.3h0.8v0.8h-0.8zM306.6 59.0h0.8v0.8h-0.8zM310.2 70.1h0.8v0.8h-0.8zM309.5 70.8h0.8v0.8h-0.8zM310.4 60.7h0.8v0.8h-0.8zM307.7 49.9h0.8v0.8h-0.8zM302.2 58.7h0.8v0.8h-0.8zM307.8 62.7h0.8v0.8h-0.8zM309.8 46.9h0.8v0.8h-0.8zM305.7 48.3h0.8v0.8h-0.8zM312.4 58.3h0.8v0.8h-0.8zM308.9 50.4h0.8v0.8h-0.8zM303.4 53.6h0.8v0.8h-0.8zM308.0 63.9h0.8v0.8h-0.8zM302.4 62.6h0.8v0.8h-0.8zM305.0 54.1h0.8v0.8h-0.8zM307.1 55.1h0.8v0.8h-0.8zM310.2 68.0h0.8v0.8h-0.8zM309.8 54.0h0.8v0.8h-0.8zM310.1 63.0h0.8v0.8h-0.8zM311.8 61.9h0.8v0.8h-0.8zM302.0 51.8h0.8v0.8h-0.8zM306.8 68.4h0.8v0.8h-0.8zM307.9 68.3h0.8v0.8h-0.8zM309.6 47.6h0.8v0.8h-0.8zM308.6 64.8h0.8v0.8h-0.8zM310.0 44.7h0.8v0.8h-0.8zM310.1 53.5h0.8v0.8h-0.8zM300.1 53.7h0.8v0.8h-0.8zM300.6 46.7h0.8v0.8h-0.8zM314.1 83.6h0.8v0.8h-0.8zM312.6 63.6h0.8v0.8h-0.8zM315.9 62.7h0.8v0.8h-0.8zM304.6 35.1h0.8v0.8h-0.8zM312.0 37.1h0.8v0.8h-0.8zM297.1 52.8h0.8v0.8h-0.8zM308.7 50.8h0.8v0.8h-0.8zM312.5 58.4h0.8v0.8h-0.8z" fill="#555" opacity="0.4"/>
<ellipse cx="193" cy="48" rx="7" ry="8" fill="#777" opacity="0.28" filter="url(#bl)"/>
<path d="M191.2 49.2h0.8v0.8h-0.8zM183.7 54.7h0.8v0.8h-0.8zM190.4 51.2h0.8v0.8h-0.8zM189.9 59.0h0.8v0.8h-0.8zM193.4 56.9h0.8v0.8h-0.8zM187.7 46.2h0.8v0.8h-0.8zM184.2 47.5h0.8v0.8h-0.8zM176.1 59.5h0.8v0.8h-0.8zM189.8 49.7h0.8v0.8h-0.8zM193.2 46.7h0.8v0.8h-0.8zM190.3 54.1h0.8v0.8h-0.8zM181.6 60.2h0.8v0.8h-0.8zM189.8 53.1h0.8v0.8h-0.8zM184.1 45.2h0.8v0.8h-0.8zM197.2 45.7h0.8v0.8h-0.8zM187.1 52.2h0.8v0.8h-0.8zM196.0 33.6h0.8v0.8h-0.8zM196.2 50.9h0.8v0.8h-0.8zM193.4 42.6h0.8v0.8h-0.8zM190.6 59.5h0.8v0.8h-0.8zM188.6 45.1h0.8v0.8h-0.8zM187.0 45.7h0.8v0.8h-0.8zM192.9 50.4h0.8v0.8h-0.8zM186.7 54.2h0.8v0.8h-0.8zM183.8 39.9h0.8v0.8h-0.8zM201.0 45.0h0.8v0.8h-0.8zM196.9 48.6h0.8v0.8h-0.8zM188.0 52.5h0.8v0.8h-0.8zM185.0 43.7h0.8v0.8h-0.8zM188.1 46.6h0.8v0.8h-0.8zM192.6 61.7h0.8v0.8h-0.8zM183.4 43.5h0.8v0.8h-0.8zM192.7 52.4h0.8v0.8h-0.8zM194.5 44.4h0.8v0.8h-0.8zM192.0 48.8h0.8v0.8h-0.8zM181.2 52.0h0.8v0.8h-0.8zM181.5 52.6h0.8v0.8h-0.8zM186.9 47.9h0.8v0.8h-0.8zM199.4 59.0h0.8v0.8h-0.8zM191.2 51.7h0.8v0.8h-0.8zM185.4 57.2h0.8v0.8h-0.8zM192.1 43.6h0.8v0.8h-0.8zM181.1 49.1h0.8v0.8h-0.8zM188.2 54.7h0.8v0.8h-0.8zM184.1 43.4h0.8v0.8h-0.8zM191.1 49.7h0.8v0.8h-0.8zM193.7 56.3h0.8v0.8h-0.8zM184.8 33.9h0.8v0.8h-0.8zM189.4 44.4h0.8v0.8h-0.8zM190.3 31.7h0.8v0.8h-0.8zM188.6 49.7h0.8v0.8h-0.8zM186.4 52.5h0.8v0.8h-0.8zM189.6 50.6h0.8v0.8h-0.8zM195.4 57.5h0.8v0.8h-0.8zM194.9 51.6h0.8v0.8h-0.8zM189.8 52.8h0.8v0.8h-0.8zM190.6 44.4h0.8v0.8h-0.8zM191.0 55.0h0.8v0.8h-0.8zM187.1 42.1h0.8v0.8h-0.8zM191.9 44.3h0.8v0.8h-0.8zM181.9 47.6h0.8v0.8h-0.8zM182.1 51.3h0.8v0.8h-0.8zM186.6 49.7h0.8v0.8h-0.8zM194.6 56.3h0.8v0.8h-0.8zM188.7 34.7h0.8v0.8h-0.8zM186.8 41.7h0.8v0.8h-0.8zM193.4 59.2h0.8v0.8h-0.8zM192.5 53.3h0.8v0.8h-0.8zM191.8 53.5h0.8v0.8h-0.8zM187.3 54.9h0.8v0.8h-0.8zM187.6 41.7h0.8v0.8h-0.8zM189.4 59.4h0.8v0.8h-0.8zM188.2 37.8h0.8v0.8h-0.8zM195.1 50.7h0.8v0.8h-0.8zM191.8 46.2h0.8v0.8h-0.8zM191.4 59.5h0.8v0.8h-0.8zM186.0 53.6h0.8v0.8h-0.8zM190.8 43.6h0.8v0.8h-0.8zM190.0 53.0h0.8v0.8h-0.8zM185.1 56.7h0.8v0.8h-0.8zM183.8 56.6h0.8v0.8h-0.8zM192.1 50.8h0.8v0.8h-0.8zM185.4 44.2h0.8v0.8h-0.8zM178.5 49.0h0.8v0.8h-0.8zM188.5 52.7h0.8v0.8h-0.8zM194.0 50.4h0.8v0.8h-0.8zM187.5 55.5h0.8v0.8h-0.8zM189.1 49.0h0.8v0.8h-0.8zM183.5 55.9h0.8v0.8h-0.8zM185.9 61.6h0.8v0.8h-0.8zM185.0 46.1h0.8v0.8h-0.8zM189.6 44.7h0.8v0.8h-0.8zM182.1 41.9h0.8v0.8h-0.8zM185.2 47.7h0.8v0.8h-0.8zM193.8 53.4h0.8v0.8h-0.8zM190.7 54.4h0.8v0.8h-0.8zM178.7 45.2h0.8v0.8h-0.8zM186.5 42.6h0.8v0.8h-0.8zM191.4 45.0h0.8v0.8h-0.8zM183.9 54.9h0.8v0.8h-0.8zM186.0 47.6h0.8v0.8h-0.8zM181.9 54.9h0.8v0.8h-0.8zM189.3 58.4h0.8v0.8h-0.8zM199.7 53.4h0.8v0.8h-0.8zM187.4 44.1h0.8v0.8h-0.8zM197.0 47.9h0.8v0.8h-0.8zM192.1 50.7h0.8v0.8h-0.8zM173.0 50.1h0.8v0.8h-0.8zM189.9 50.4h0.8v0.8h-0.8zM188.5 50.7h0.8v0.8h-0.8zM184.3 53.0h0.8v0.8h-0.8zM186.7 50.2h0.8v0.8h-0.8zM197.0 50.6h0.8v0.8h-0.8zM184.2 51.5h0.8v0.8h-0.8zM182.2 50.3h0.8v0.8h-0.8zM195.8 42.4h0.8v0.8h-0.8zM188.4 43.6h0.8v0.8h-0.8zM190.0 51.3h0.8v0.8h-0.8zM190.0 47.4h0.8v0.8h-0.8zM180.1 43.5h0.8v0.8h-0.8zM187.0 54.4h0.8v0.8h-0.8zM179.6 56.1h0.8v0.8h-0.8zM185.5 38.5h0.8v0.8h-0.8zM196.1 51.3h0.8v0.8h-0.8zM184.7 50.8h0.8v0.8h-0.8zM192.0 40.1h0.8v0.8h-0.8zM195.2 43.8h0.8v0.8h-0.8zM193.0 45.6h0.8v0.8h-0.8zM181.6 45.4h0.8v0.8h-0.8zM186.7 49.9h0.8v0.8h-0.8zM181.2 42.8h0.8v0.8h-0.8zM190.6 46.7h0.8v0.8h-0.8zM186.6 51.9h0.8v0.8h-0.8zM182.8 61.8h0.8v0.8h-0.8zM185.6 51.5h0.8v0.8h-0.8zM188.3 55.4h0.8v0.8h-0.8zM187.0 44.2h0.8v0.8h-0.8zM190.3 53.0h0.8v0.8h-0.8zM188.4 62.0h0.8v0.8h-0.8zM192.7 57.8h0.8v0.8h-0.8zM195.1 55.6h0.8v0.8h-0.8zM188.2 59.4h0.8v0.8h-0.8zM187.3 50.0h0.8v0.8h-0.8zM195.7 55.0h0.8v0.8h-0.8zM184.0 47.2h0.8v0.8h-0.8zM184.9 56.4h0.8v0.8h-0.8zM187.4 49.2h0.8v0.8h-0.8zM185.9 45.9h0.8v0.8h-0.8zM192.2 42.8h0.8v0.8h-0.8zM189.3 46.0h0.8v0.8h-0.8z" fill="#555" opacity="0.6"/>
<path d="M131.4 52.6h0.8v0.8h-0.8zM115.6 66.2h0.8v0.8h-0.8zM104.9 50.3h0.8v0.8h-0.8zM135.6 55.6h0.8v0.8h-0.8zM132.1 41.9h0.8v0.8h-0.8zM147.3 44.4h0.8v0.8h-0.8zM123.7 50.2h0.8v0.8h-0.8zM124.2 45.8h0.8v0.8h-0.8zM143.4 50.8h0.8v0.8h-0.8zM136.6 37.3h0.8v0.8h-0.8zM131.7 48.5h0.8v0.8h-0.8zM129.3 52.0h0.8v0.8h-0.8zM129.8 49.5h0.8v0.8h-0.8zM125.3 51.4h0.8v0.8h-0.8zM127.2 50.7h0.8v0.8h-0.8zM119.7 53.8h0.8v0.8h-0.8zM113.9 67.1h0.8v0.8h-0.8zM134.9 62.8h0.8v0.8h-0.8zM122.9 39.7h0.8v0.8h-0.8zM105.7 43.7h0.8v0.8h-0.8zM116.6 47.0h0.8v0.8h-0.8zM119.7 55.3h0.8v0.8h-0.8zM95.2 63.8h0.8v0.8h-0.8zM119.9 51.4h0.8v0.8h-0.8zM102.3 52.1h0.8v0.8h-0.8zM106.4 54.2h0.8v0.8h-0.8zM127.6 51.6h0.8v0.8h-0.8zM122.0 47.9h0.8v0.8h-0.8zM120.2 57.5h0.8v0.8h-0.8zM125.1 52.0h0.8v0.8h-0.8z" fill="#555" opacity="0.35"/>
<path d="M244.1 47.2h0.8v0.8h-0.8zM255.3 46.1h0.8v0.8h-0.8zM244.5 38.3h0.8v0.8h-0.8zM256.8 49.2h0.8v0.8h-0.8zM247.4 43.0h0.8v0.8h-0.8zM234.8 51.6h0.8v0.8h-0.8zM245.5 50.5h0.8v0.8h-0.8zM262.3 48.1h0.8v0.8h-0.8zM251.1 58.5h0.8v0.8h-0.8zM250.7 52.1h0.8v0.8h-0.8zM244.1 43.8h0.8v0.8h-0.8zM240.9 58.9h0.8v0.8h-0.8zM261.0 47.5h0.8v0.8h-0.8zM251.5 48.4h0.8v0.8h-0.8zM271.4 59.7h0.8v0.8h-0.8zM252.0 57.4h0.8v0.8h-0.8zM262.3 43.9h0.8v0.8h-0.8zM257.4 56.9h0.8v0.8h-0.8zM253.3 58.4h0.8v0.8h-0.8zM261.5 52.4h0.8v0.8h-0.8zM250.7 59.5h0.8v0.8h-0.8zM254.3 55.6h0.8v0.8h-0.8zM266.9 55.3h0.8v0.8h-0.8zM252.9 41.8h0.8v0.8h-0.8zM255.8 55.2h0.8v0.8h-0.8zM257.5 56.8h0.8v0.8h-0.8zM258.3 54.3h0.8v0.8h-0.8zM254.3 57.0h0.8v0.8h-0.8zM248.6 44.7h0.8v0.8h-0.8zM246.5 53.2h0.8v0.8h-0.8zM241.1 48.6h0.8v0.8h-0.8zM252.0 54.9h0.8v0.8h-0.8zM246.2 52.9h0.8v0.8h-0.8zM253.6 48.2h0.8v0.8h-0.8zM253.8 51.0h0.8v0.8h-0.8zM245.7 49.7h0.8v0.8h-0.8zM247.1 67.4h0.8v0.8h-0.8zM251.8 47.4h0.8v0.8h-0.8zM243.4 52.4h0.8v0.8h-0.8zM255.9 52.7h0.8v0.8h-0.8zM243.9 44.3h0.8v0.8h-0.8zM245.9 53.9h0.8v0.8h-0.8zM247.6 51.7h0.8v0.8h-0.8zM265.8 37.7h0.8v0.8h-0.8zM251.6 52.2h0.8v0.8h-0.8zM242.9 60.7h0.8v0.8h-0.8zM251.5 55.4h0.8v0.8h-0.8zM257.4 63.6h0.8v0.8h-0.8zM248.9 47.4h0.8v0.8h-0.8zM244.6 42.5h0.8v0.8h-0.8zM265.9 48.8h0.8v0.8h-0.8zM241.3 57.9h0.8v0.8h-0.8zM265.6 44.7h0.8v0.8h-0.8zM253.0 41.4h0.8v0.8h-0.8zM239.4 50.9h0.8v0.8h-0.8zM245.1 43.0h0.8v0.8h-0.8zM253.4 55.5h0.8v0.8h-0.8zM251.8 62.5h0.8v0.8h-0.8zM248.8 49.6h0.8v0.8h-0.8zM259.4 70.1h0.8v0.8h-0.8zM267.4 59.9h0.8v0.8h-0.8zM254.3 41.7h0.8v0.8h-0.8zM263.6 51.7h0.8v0.8h-0.8zM269.5 52.8h0.8v0.8h-0.8zM239.6 61.2h0.8v0.8h-0.8zM254.5 48.0h0.8v0.8h-0.8zM254.4 52.4h0.8v0.8h-0.8zM255.4 38.1h0.8v0.8h-0.8zM253.5 55.9h0.8v0.8h-0.8zM244.6 62.7h0.8v0.8h-0.8zM252.2 36.0h0.8v0.8h-0.8zM264.5 49.3h0.8v0.8h-0.8zM253.7 50.8h0.8v0.8h-0.8zM266.9 52.6h0.8v0.8h-0.8zM248.4 47.2h0.8v0.8h-0.8zM257.4 57.2h0.8v0.8h-0.8zM248.6 59.9h0.8v0.8h-0.8zM248.5 53.7h0.8v0.8h-0.8zM257.1 54.7h0.8v0.8h-0.8zM255.2 54.7h0.8v0.8h-0.8zM249.8 54.2h0.8v0.8h-0.8zM255.7 42.5h0.8v0.8h-0.8zM243.3 54.8h0.8v0.8h-0.8zM253.1 53.7h0.8v0.8h-0.8zM258.6 55.4h0.8v0.8h-0.8zM249.6 56.7h0.8v0.8h-0.8zM248.4 66.2h0.8v0.8h-0.8zM260.6 52.5h0.8v0.8h-0.8zM248.8 56.4h0.8v0.8h-0.8zM252.2 46.4h0.8v0.8h-0.8z" fill="#555" opacity="0.45"/>
<path d="M312.9 50.1h0.8v0.8h-0.8zM330.3 37.7h0.8v0.8h-0.8zM326.9 46.9h0.8v0.8h-0.8zM329.0 49.3h0.8v0.8h-0.8zM320.9 55.3h0.8v0.8h-0.8zM318.0 51.7h0.8v0.8h-0.8zM320.5 62.9h0.8v0.8h-0.8zM323.9 38.8h0.8v0.8h-0.8zM324.1 53.5h0.8v0.8h-0.8zM321.7 62.1h0.8v0.8h-0.8zM328.7 39.8h0.8v0.8h-0.8zM330.5 47.7h0.8v0.8h-0.8zM318.2 47.0h0.8v0.8h-0.8zM320.1 57.0h0.8v0.8h-0.8zM312.7 49.6h0.8v0.8h-0.8zM315.7 48.5h0.8v0.8h-0.8zM317.3 54.8h0.8v0.8h-0.8zM325.7 42.3h0.8v0.8h-0.8zM321.9 37.4h0.8v0.8h-0.8zM321.3 55.9h0.8v0.8h-0.8zM318.9 69.1h0.8v0.8h-0.8zM323.8 44.1h0.8v0.8h-0.8zM323.1 44.8h0.8v0.8h-0.8zM324.0 49.4h0.8v0.8h-0.8zM320.9 29.6h0.8v0.8h-0.8zM315.2 56.3h0.8v0.8h-0.8zM325.8 56.7h0.8v0.8h-0.8zM322.6 58.7h0.8v0.8h-0.8zM327.4 54.8h0.8v0.8h-0.8zM328.8 57.9h0.8v0.8h-0.8zM317.8 55.2h0.8v0.8h-0.8zM327.6 49.6h0.8v0.8h-0.8zM307.4 48.7h0.8v0.8h-0.8zM323.0 31.3h0.8v0.8h-0.8zM311.1 41.7h0.8v0.8h-0.8zM332.5 57.2h0.8v0.8h-0.8zM318.8 58.0h0.8v0.8h-0.8zM323.4 38.9h0.8v0.8h-0.8zM318.4 58.4h0.8v0.8h-0.8zM319.1 70.4h0.8v0.8h-0.8zM317.9 47.9h0.8v0.8h-0.8zM319.6 51.4h0.8v0.8h-0.8zM321.0 61.4h0.8v0.8h-0.8zM335.6 49.3h0.8v0.8h-0.8zM310.6 48.0h0.8v0.8h-0.8zM321.9 64.3h0.8v0.8h-0.8zM326.0 51.9h0.8v0.8h-0.8zM340.6 42.4h0.8v0.8h-0.8zM313.3 62.8h0.8v0.8h-0.8zM325.9 51.7h0.8v0.8h-0.8zM312.8 54.4h0.8v0.8h-0.8zM323.5 45.9h0.8v0.8h-0.8zM322.1 39.5h0.8v0.8h-0.8zM329.1 41.8h0.8v0.8h-0.8zM328.1 43.7h0.8v0.8h-0.8zM314.5 49.6h0.8v0.8h-0.8zM315.5 56.9h0.8v0.8h-0.8zM315.0 52.3h0.8v0.8h-0.8zM326.3 58.4h0.8v0.8h-0.8zM327.6 49.7h0.8v0.8h-0.8zM335.2 50.4h0.8v0.8h-0.8zM317.3 53.6h0.8v0.8h-0.8zM334.6 38.3h0.8v0.8h-0.8zM318.1 63.0h0.8v0.8h-0.8zM322.2 40.9h0.8v0.8h-0.8zM325.7 56.0h0.8v0.8h-0.8zM320.2 40.8h0.8v0.8h-0.8zM319.3 46.3h0.8v0.8h-0.8zM330.8 42.5h0.8v0.8h-0.8zM308.3 53.5h0.8v0.8h-0.8zM319.2 61.4h0.8v0.8h-0.8zM303.8 49.3h0.8v0.8h-0.8zM327.9 49.2h0.8v0.8h-0.8zM323.1 45.4h0.8v0.8h-0.8zM333.0 40.7h0.8v0.8h-0.8zM321.2 50.1h0.8v0.8h-0.8zM320.5 56.6h0.8v0.8h-0.8zM320.1 51.9h0.8v0.8h-0.8zM325.0 53.4h0.8v0.8h-0.8zM328.3 43.8h0.8v0.8h-0.8zM333.2 37.7h0.8v0.8h-0.8zM309.7 45.5h0.8v0.8h-0.8zM313.2 56.4h0.8v0.8h-0.8zM325.8 59.5h0.8v0.8h-0.8zM328.4 57.1h0.8v0.8h-0.8zM343.1 46.2h0.8v0.8h-0.8zM322.0 49.6h0.8v0.8h-0.8zM330.6 51.3h0.8v0.8h-0.8zM318.8 44.7h0.8v0.8h-0.8zM323.0 45.1h0.8v0.8h-0.8z" fill="#555" opacity="0.45"/>
<path d="M99.2,66 L101.5,64 C106,64.6 109,66.5 111.5,68 C114,69.6 116,69.6 118,68 C121,64 124,61 127,60.2 L131.5,58.5 L133.3,61 C134,70 134,80 133.6,88 C132,90.5 128,90 125.5,89 C123,86 122,85 120.5,83.6 C118,81 116,80.6 114.5,81.2 C112,83 110,84.4 108,85 L101,86 L99.2,84 Z" fill="#d4d4d4" stroke="#050505" stroke-width="0.9" stroke-linejoin="round"/>
<g clip-path="url(#b1)" fill="none" stroke-linejoin="round">
<path d="M99.2,66 L101.5,64 C106,64.6 109,66.5 111.5,68 C114,69.6 116,69.6 118,68 C121,64 124,61 127,60.2 L131.5,58.5 L133.3,61 C134,70 134,80 133.6,88 C132,90.5 128,90 125.5,89 C123,86 122,85 120.5,83.6 C118,81 116,80.6 114.5,81.2 C112,83 110,84.4 108,85 L101,86 L99.2,84 Z" stroke="#b0b0b0" stroke-width="12"/>
<path d="M99.2,66 L101.5,64 C106,64.6 109,66.5 111.5,68 C114,69.6 116,69.6 118,68 C121,64 124,61 127,60.2 L131.5,58.5 L133.3,61 C134,70 134,80 133.6,88 C132,90.5 128,90 125.5,89 C123,86 122,85 120.5,83.6 C118,81 116,80.6 114.5,81.2 C112,83 110,84.4 108,85 L101,86 L99.2,84 Z" stroke="#7a7a7a" stroke-width="9"/>
<path d="M99.2,66 L101.5,64 C106,64.6 109,66.5 111.5,68 C114,69.6 116,69.6 118,68 C121,64 124,61 127,60.2 L131.5,58.5 L133.3,61 C134,70 134,80 133.6,88 C132,90.5 128,90 125.5,89 C123,86 122,85 120.5,83.6 C118,81 116,80.6 114.5,81.2 C112,83 110,84.4 108,85 L101,86 L99.2,84 Z" stroke="#3a3a3a" stroke-width="6.6"/>
<path d="M99.2,66 L101.5,64 C106,64.6 109,66.5 111.5,68 C114,69.6 116,69.6 118,68 C121,64 124,61 127,60.2 L131.5,58.5 L133.3,61 C134,70 134,80 133.6,88 C132,90.5 128,90 125.5,89 C123,86 122,85 120.5,83.6 C118,81 116,80.6 114.5,81.2 C112,83 110,84.4 108,85 L101,86 L99.2,84 Z" stroke="#050505" stroke-width="4.2"/>
<ellipse cx="102.8" cy="74.8" rx="7.6" ry="10.2" fill="#9a9a9a"/>
<ellipse cx="102.8" cy="74.8" rx="6.65" ry="8.92" fill="#2a2a2a"/>
<ellipse cx="102.8" cy="74.8" rx="5.7" ry="7.65" fill="#a8a8a8"/>
<ellipse cx="102.8" cy="74.8" rx="4.75" ry="6.38" fill="#2e2e2e"/>
<ellipse cx="102.8" cy="74.8" rx="3.8" ry="5.1" fill="#b0b0b0"/>
<ellipse cx="102.8" cy="74.8" rx="2.85" ry="3.82" fill="#333"/>
<ellipse cx="102.8" cy="74.8" rx="1.9" ry="2.55" fill="#888"/>
<ellipse cx="102.8" cy="74.8" rx="0.95" ry="1.27" fill="#111"/>
<ellipse cx="126.2" cy="76.5" rx="5.2" ry="10.4" fill="#b4b4b4"/>
<ellipse cx="126.2" cy="76.5" rx="3.47" ry="6.93" fill="#cfcfcf"/>
<ellipse cx="126.2" cy="76.5" rx="1.73" ry="3.47" fill="#e4e4e4"/>
<ellipse cx="126.4" cy="76.9" rx="2.4" ry="5.2" fill="#3c3c3c"/>
<ellipse cx="126.4" cy="76.9" rx="1.92" ry="4.16" fill="#f8f8f8"/>
<ellipse cx="126.4" cy="76.9" rx="1.44" ry="3.12" fill="#f8f8f8"/>
<ellipse cx="126.4" cy="76.9" rx="0.96" ry="2.08" fill="#f8f8f8"/>
<ellipse cx="126.4" cy="76.9" rx="0.48" ry="1.04" fill="#f8f8f8"/>
</g>
<path d="M167.3,65 L169.7,63.2 C173.7,63.8 176.7,66 179.2,68.4 C181.7,70.8 183.7,71 185.7,69.2 C188.7,64 191.7,60 195.2,58.6 L199.7,57.6 L201.6,60 C202.5,70 202.5,80 202.1,88.5 C200.2,91 195.7,91 193.2,90.4 C190.7,87 189.7,84.4 188.2,82 C185.7,79 183.7,78.4 182.2,79.2 C179.7,81.6 178.7,86 176.7,90.4 L169.2,90.4 L167.3,86 Z" fill="#d4d4d4" stroke="#050505" stroke-width="0.9" stroke-linejoin="round"/>
<g clip-path="url(#b2)" fill="none" stroke-linejoin="round">
<path d="M167.3,65 L169.7,63.2 C173.7,63.8 176.7,66 179.2,68.4 C181.7,70.8 183.7,71 185.7,69.2 C188.7,64 191.7,60 195.2,58.6 L199.7,57.6 L201.6,60 C202.5,70 202.5,80 202.1,88.5 C200.2,91 195.7,91 193.2,90.4 C190.7,87 189.7,84.4 188.2,82 C185.7,79 183.7,78.4 182.2,79.2 C179.7,81.6 178.7,86 176.7,90.4 L169.2,90.4 L167.3,86 Z" stroke="#b0b0b0" stroke-width="12"/>
<path d="M167.3,65 L169.7,63.2 C173.7,63.8 176.7,66 179.2,68.4 C181.7,70.8 183.7,71 185.7,69.2 C188.7,64 191.7,60 195.2,58.6 L199.7,57.6 L201.6,60 C202.5,70 202.5,80 202.1,88.5 C200.2,91 195.7,91 193.2,90.4 C190.7,87 189.7,84.4 188.2,82 C185.7,79 183.7,78.4 182.2,79.2 C179.7,81.6 178.7,86 176.7,90.4 L169.2,90.4 L167.3,86 Z" stroke="#7a7a7a" stroke-width="9"/>
<path d="M167.3,65 L169.7,63.2 C173.7,63.8 176.7,66 179.2,68.4 C181.7,70.8 183.7,71 185.7,69.2 C188.7,64 191.7,60 195.2,58.6 L199.7,57.6 L201.6,60 C202.5,70 202.5,80 202.1,88.5 C200.2,91 195.7,91 193.2,90.4 C190.7,87 189.7,84.4 188.2,82 C185.7,79 183.7,78.4 182.2,79.2 C179.7,81.6 178.7,86 176.7,90.4 L169.2,90.4 L167.3,86 Z" stroke="#3a3a3a" stroke-width="6.6"/>
<path d="M167.3,65 L169.7,63.2 C173.7,63.8 176.7,66 179.2,68.4 C181.7,70.8 183.7,71 185.7,69.2 C188.7,64 191.7,60 195.2,58.6 L199.7,57.6 L201.6,60 C202.5,70 202.5,80 202.1,88.5 C200.2,91 195.7,91 193.2,90.4 C190.7,87 189.7,84.4 188.2,82 C185.7,79 183.7,78.4 182.2,79.2 C179.7,81.6 178.7,86 176.7,90.4 L169.2,90.4 L167.3,86 Z" stroke="#050505" stroke-width="4.2"/>
<ellipse cx="170.9" cy="75.0" rx="7.6" ry="10.2" fill="#9a9a9a"/>
<ellipse cx="170.9" cy="75.0" rx="6.65" ry="8.92" fill="#2a2a2a"/>
<ellipse cx="170.9" cy="75.0" rx="5.7" ry="7.65" fill="#a8a8a8"/>
<ellipse cx="170.9" cy="75.0" rx="4.75" ry="6.38" fill="#2e2e2e"/>
<ellipse cx="170.9" cy="75.0" rx="3.8" ry="5.1" fill="#b0b0b0"/>
<ellipse cx="170.9" cy="75.0" rx="2.85" ry="3.82" fill="#333"/>
<ellipse cx="170.9" cy="75.0" rx="1.9" ry="2.55" fill="#888"/>
<ellipse cx="170.9" cy="75.0" rx="0.95" ry="1.27" fill="#111"/>
<ellipse cx="194.2" cy="76.0" rx="5.2" ry="10.4" fill="#b4b4b4"/>
<ellipse cx="194.2" cy="76.0" rx="3.47" ry="6.93" fill="#cfcfcf"/>
<ellipse cx="194.2" cy="76.0" rx="1.73" ry="3.47" fill="#e4e4e4"/>
<ellipse cx="194.4" cy="76.4" rx="2.4" ry="5.2" fill="#3c3c3c"/>
<ellipse cx="194.4" cy="76.4" rx="1.92" ry="4.16" fill="#f8f8f8"/>
<ellipse cx="194.4" cy="76.4" rx="1.44" ry="3.12" fill="#f8f8f8"/>
<ellipse cx="194.4" cy="76.4" rx="0.96" ry="2.08" fill="#f8f8f8"/>
<ellipse cx="194.4" cy="76.4" rx="0.48" ry="1.04" fill="#f8f8f8"/>
</g>
<path d="M235.4,67.5 L236.5,65.5 C239.6,64.4 242.6,63.6 245.0,63.2 C247.6,63 250.0,63 251.2,61.7 C251.0,60 249.4,59.6 248.9,59.3 C247.2,57.4 246.6,55.2 247.3,53.2 C248.6,49 251.6,45.6 255.1,45.4 C258.2,45.3 260.8,46.4 260.8,48.5 C260.8,51.4 259.8,53.6 259.0,55.5 C258.2,56.8 257.0,57.6 256.6,58.3 C256.8,59.8 258.0,60.6 259.0,60.9 L265.9,61.7 C267.6,62.6 268.6,64.4 268.6,66.3 L268.6,91 L256.6,91 C255.6,88 254.2,85 251.2,82.6 C250.0,83.6 248.6,84.6 247.3,84.9 L237.3,84.1 L235.4,82.6 Z" fill="#bcbcbc" stroke="#050505" stroke-width="0.9" stroke-linejoin="round"/>
<g clip-path="url(#b3)" fill="none" stroke-linejoin="round">
<path d="M235.4,67.5 L236.5,65.5 C239.6,64.4 242.6,63.6 245.0,63.2 C247.6,63 250.0,63 251.2,61.7 C251.0,60 249.4,59.6 248.9,59.3 C247.2,57.4 246.6,55.2 247.3,53.2 C248.6,49 251.6,45.6 255.1,45.4 C258.2,45.3 260.8,46.4 260.8,48.5 C260.8,51.4 259.8,53.6 259.0,55.5 C258.2,56.8 257.0,57.6 256.6,58.3 C256.8,59.8 258.0,60.6 259.0,60.9 L265.9,61.7 C267.6,62.6 268.6,64.4 268.6,66.3 L268.6,91 L256.6,91 C255.6,88 254.2,85 251.2,82.6 C250.0,83.6 248.6,84.6 247.3,84.9 L237.3,84.1 L235.4,82.6 Z" stroke="#9c9c9c" stroke-width="20"/>
<path d="M235.4,67.5 L236.5,65.5 C239.6,64.4 242.6,63.6 245.0,63.2 C247.6,63 250.0,63 251.2,61.7 C251.0,60 249.4,59.6 248.9,59.3 C247.2,57.4 246.6,55.2 247.3,53.2 C248.6,49 251.6,45.6 255.1,45.4 C258.2,45.3 260.8,46.4 260.8,48.5 C260.8,51.4 259.8,53.6 259.0,55.5 C258.2,56.8 257.0,57.6 256.6,58.3 C256.8,59.8 258.0,60.6 259.0,60.9 L265.9,61.7 C267.6,62.6 268.6,64.4 268.6,66.3 L268.6,91 L256.6,91 C255.6,88 254.2,85 251.2,82.6 C250.0,83.6 248.6,84.6 247.3,84.9 L237.3,84.1 L235.4,82.6 Z" stroke="#6c6c6c" stroke-width="15"/>
<path d="M235.4,67.5 L236.5,65.5 C239.6,64.4 242.6,63.6 245.0,63.2 C247.6,63 250.0,63 251.2,61.7 C251.0,60 249.4,59.6 248.9,59.3 C247.2,57.4 246.6,55.2 247.3,53.2 C248.6,49 251.6,45.6 255.1,45.4 C258.2,45.3 260.8,46.4 260.8,48.5 C260.8,51.4 259.8,53.6 259.0,55.5 C258.2,56.8 257.0,57.6 256.6,58.3 C256.8,59.8 258.0,60.6 259.0,60.9 L265.9,61.7 C267.6,62.6 268.6,64.4 268.6,66.3 L268.6,91 L256.6,91 C255.6,88 254.2,85 251.2,82.6 C250.0,83.6 248.6,84.6 247.3,84.9 L237.3,84.1 L235.4,82.6 Z" stroke="#3c3c3c" stroke-width="10"/>
<path d="M235.4,67.5 L236.5,65.5 C239.6,64.4 242.6,63.6 245.0,63.2 C247.6,63 250.0,63 251.2,61.7 C251.0,60 249.4,59.6 248.9,59.3 C247.2,57.4 246.6,55.2 247.3,53.2 C248.6,49 251.6,45.6 255.1,45.4 C258.2,45.3 260.8,46.4 260.8,48.5 C260.8,51.4 259.8,53.6 259.0,55.5 C258.2,56.8 257.0,57.6 256.6,58.3 C256.8,59.8 258.0,60.6 259.0,60.9 L265.9,61.7 C267.6,62.6 268.6,64.4 268.6,66.3 L268.6,91 L256.6,91 C255.6,88 254.2,85 251.2,82.6 C250.0,83.6 248.6,84.6 247.3,84.9 L237.3,84.1 L235.4,82.6 Z" stroke="#050505" stroke-width="5.4"/>
<ellipse cx="238.8" cy="74.4" rx="7.6" ry="10.2" fill="#9a9a9a"/>
<ellipse cx="238.8" cy="74.4" rx="6.65" ry="8.92" fill="#2a2a2a"/>
<ellipse cx="238.8" cy="74.4" rx="5.7" ry="7.65" fill="#a8a8a8"/>
<ellipse cx="238.8" cy="74.4" rx="4.75" ry="6.38" fill="#2e2e2e"/>
<ellipse cx="238.8" cy="74.4" rx="3.8" ry="5.1" fill="#b0b0b0"/>
<ellipse cx="238.8" cy="74.4" rx="2.85" ry="3.82" fill="#333"/>
<ellipse cx="238.8" cy="74.4" rx="1.9" ry="2.55" fill="#888"/>
<ellipse cx="238.8" cy="74.4" rx="0.95" ry="1.27" fill="#111"/>
<ellipse cx="258.2" cy="74.8" rx="4.4" ry="6.6" fill="#a8a8a8"/>
<ellipse cx="258.2" cy="74.8" rx="3.3" ry="4.95" fill="#cfcfcf"/>
<ellipse cx="258.2" cy="74.8" rx="2.2" ry="3.3" fill="#f0f0f0"/>
<ellipse cx="258.2" cy="74.8" rx="1.1" ry="1.65" fill="#fafafa"/>
<ellipse cx="253.8" cy="52.2" rx="4.6" ry="5.6" fill="#8a8a8a" transform="rotate(30 253.8 52.2)"/>
<ellipse cx="253.8" cy="52.2" rx="3.45" ry="4.2" fill="#b8b8b8" transform="rotate(30 253.8 52.2)"/>
<ellipse cx="253.8" cy="52.2" rx="2.3" ry="2.8" fill="#d4d4d4" transform="rotate(30 253.8 52.2)"/>
<ellipse cx="253.8" cy="52.2" rx="1.15" ry="1.4" fill="#e8e8e8" transform="rotate(30 253.8 52.2)"/>
</g>
<path d="M302.2,68.6 L305.3,65.5 C308.7,64.6 312.7,64.4 315.3,64 C318.3,63.4 320.3,62 320.0,60.1 C319.3,57 317.3,54 317.7,50.8 C318.3,47 320.7,44.3 323.9,44.3 C327.3,44.4 329.5,46.6 329.3,49.3 C329.1,52 328.3,54.4 328.8,56.3 C329.7,58.4 332.1,58.6 333.9,59.3 C336.3,60.4 337.5,62.6 337.5,64.8 C338.5,70 338.7,74 338.6,78.7 L337.5,91 L321.1,91 C320.7,88.6 320.3,86.4 319.2,84.9 L307.6,84.9 C305.1,84.4 303.3,83.4 302.5,81.8 Z" fill="#bcbcbc" stroke="#050505" stroke-width="0.9" stroke-linejoin="round"/>
<g clip-path="url(#b4)" fill="none" stroke-linejoin="round">
<path d="M302.2,68.6 L305.3,65.5 C308.7,64.6 312.7,64.4 315.3,64 C318.3,63.4 320.3,62 320.0,60.1 C319.3,57 317.3,54 317.7,50.8 C318.3,47 320.7,44.3 323.9,44.3 C327.3,44.4 329.5,46.6 329.3,49.3 C329.1,52 328.3,54.4 328.8,56.3 C329.7,58.4 332.1,58.6 333.9,59.3 C336.3,60.4 337.5,62.6 337.5,64.8 C338.5,70 338.7,74 338.6,78.7 L337.5,91 L321.1,91 C320.7,88.6 320.3,86.4 319.2,84.9 L307.6,84.9 C305.1,84.4 303.3,83.4 302.5,81.8 Z" stroke="#9c9c9c" stroke-width="20"/>
<path d="M302.2,68.6 L305.3,65.5 C308.7,64.6 312.7,64.4 315.3,64 C318.3,63.4 320.3,62 320.0,60.1 C319.3,57 317.3,54 317.7,50.8 C318.3,47 320.7,44.3 323.9,44.3 C327.3,44.4 329.5,46.6 329.3,49.3 C329.1,52 328.3,54.4 328.8,56.3 C329.7,58.4 332.1,58.6 333.9,59.3 C336.3,60.4 337.5,62.6 337.5,64.8 C338.5,70 338.7,74 338.6,78.7 L337.5,91 L321.1,91 C320.7,88.6 320.3,86.4 319.2,84.9 L307.6,84.9 C305.1,84.4 303.3,83.4 302.5,81.8 Z" stroke="#6c6c6c" stroke-width="15"/>
<path d="M302.2,68.6 L305.3,65.5 C308.7,64.6 312.7,64.4 315.3,64 C318.3,63.4 320.3,62 320.0,60.1 C319.3,57 317.3,54 317.7,50.8 C318.3,47 320.7,44.3 323.9,44.3 C327.3,44.4 329.5,46.6 329.3,49.3 C329.1,52 328.3,54.4 328.8,56.3 C329.7,58.4 332.1,58.6 333.9,59.3 C336.3,60.4 337.5,62.6 337.5,64.8 C338.5,70 338.7,74 338.6,78.7 L337.5,91 L321.1,91 C320.7,88.6 320.3,86.4 319.2,84.9 L307.6,84.9 C305.1,84.4 303.3,83.4 302.5,81.8 Z" stroke="#3c3c3c" stroke-width="10"/>
<path d="M302.2,68.6 L305.3,65.5 C308.7,64.6 312.7,64.4 315.3,64 C318.3,63.4 320.3,62 320.0,60.1 C319.3,57 317.3,54 317.7,50.8 C318.3,47 320.7,44.3 323.9,44.3 C327.3,44.4 329.5,46.6 329.3,49.3 C329.1,52 328.3,54.4 328.8,56.3 C329.7,58.4 332.1,58.6 333.9,59.3 C336.3,60.4 337.5,62.6 337.5,64.8 C338.5,70 338.7,74 338.6,78.7 L337.5,91 L321.1,91 C320.7,88.6 320.3,86.4 319.2,84.9 L307.6,84.9 C305.1,84.4 303.3,83.4 302.5,81.8 Z" stroke="#050505" stroke-width="5.4"/>
<ellipse cx="309.0" cy="74.8" rx="10.0" ry="9.6" fill="#9a9a9a"/>
<ellipse cx="309.0" cy="74.8" rx="8.0" ry="7.68" fill="#2a2a2a"/>
<ellipse cx="309.0" cy="74.8" rx="6.0" ry="5.76" fill="#a8a8a8"/>
<ellipse cx="309.0" cy="74.8" rx="4.0" ry="3.84" fill="#2e2e2e"/>
<ellipse cx="309.0" cy="74.8" rx="2.0" ry="1.92" fill="#b0b0b0"/>
<ellipse cx="306.0" cy="74.8" rx="2.6" ry="6.0" fill="#444"/>
<ellipse cx="306.0" cy="74.8" rx="1.3" ry="3.0" fill="#111"/>
<ellipse cx="312.3" cy="74.8" rx="3.2" ry="2.4" fill="#333"/>
<ellipse cx="312.3" cy="74.8" rx="2.13" ry="1.6" fill="#f4f4f4"/>
<ellipse cx="312.3" cy="74.8" rx="1.07" ry="0.8" fill="#f4f4f4"/>
<ellipse cx="327.7" cy="78.5" rx="7.4" ry="13.0" fill="#909090"/>
<ellipse cx="327.7" cy="78.5" rx="6.48" ry="11.38" fill="#c4c4c4"/>
<ellipse cx="327.7" cy="78.5" rx="5.55" ry="9.75" fill="#5a5a5a"/>
<ellipse cx="327.7" cy="78.5" rx="4.62" ry="8.12" fill="#c8c8c8"/>
<ellipse cx="327.7" cy="78.5" rx="3.7" ry="6.5" fill="#6a6a6a"/>
<ellipse cx="327.7" cy="78.5" rx="2.78" ry="4.88" fill="#d8d8d8"/>
<ellipse cx="327.7" cy="78.5" rx="1.85" ry="3.25" fill="#777"/>
<ellipse cx="327.7" cy="78.5" rx="0.93" ry="1.62" fill="#f0f0f0"/>
<ellipse cx="323.5" cy="50.6" rx="4.2" ry="5.2" fill="#8a8a8a" transform="rotate(-10 323.5 50.6)"/>
<ellipse cx="323.5" cy="50.6" rx="3.15" ry="3.9" fill="#6a6a6a" transform="rotate(-10 323.5 50.6)"/>
<ellipse cx="323.5" cy="50.6" rx="2.1" ry="2.6" fill="#444" transform="rotate(-10 323.5 50.6)"/>
<ellipse cx="323.5" cy="50.6" rx="1.05" ry="1.3" fill="#2a2a2a" transform="rotate(-10 323.5 50.6)"/>
</g>
<g stroke="#1a1a1a" stroke-width="0.9" fill="none">
<line x1="90" y1="60.4" x2="362.7" y2="60.4"/>
<line x1="110.8" y1="23.2" x2="110.8" y2="91"/>
<line x1="178.5" y1="23.2" x2="178.5" y2="91"/>
<line x1="247.2" y1="23.2" x2="247.2" y2="91"/>
<line x1="315.5" y1="23.2" x2="315.5" y2="91"/>
</g>
<text x="91.4" y="33.3" font-size="9.2" font-weight="bold" fill="#151515">0.053</text>
<text x="157.7" y="33.3" font-size="9.2" font-weight="bold" text-anchor="end" fill="#151515">0.31</text>
<text x="91.4" y="90.5" font-size="9.2" font-weight="bold" fill="#151515">71.4</text>
<text x="157.7" y="90.5" font-size="9.2" font-weight="bold" text-anchor="end" fill="#151515">28.2</text>
<text x="160.1" y="33.3" font-size="9.2" font-weight="bold" fill="#151515">0.097</text>
<text x="225.6" y="33.3" font-size="9.2" font-weight="bold" text-anchor="end" fill="#151515">0.92</text>
<text x="160.1" y="90.5" font-size="9.2" font-weight="bold" fill="#151515">69.1</text>
<text x="225.6" y="90.5" font-size="9.2" font-weight="bold" text-anchor="end" fill="#151515">29.9</text>
<text x="228.0" y="33.3" font-size="9.2" font-weight="bold" fill="#151515">0.21</text>
<text x="293.7" y="33.3" font-size="9.2" font-weight="bold" text-anchor="end" fill="#151515">3.5</text>
<text x="228.0" y="90.5" font-size="9.2" font-weight="bold" fill="#151515">65.6</text>
<text x="293.7" y="90.5" font-size="9.2" font-weight="bold" text-anchor="end" fill="#151515">30.6</text>
<text x="296.1" y="33.3" font-size="9.2" font-weight="bold" fill="#151515">0.093</text>
<text x="361.7" y="33.3" font-size="9.2" font-weight="bold" text-anchor="end" fill="#151515">5.07</text>
<text x="296.1" y="90.5" font-size="9.2" font-weight="bold" fill="#151515">41.</text>
<text x="361.7" y="90.5" font-size="9.2" font-weight="bold" text-anchor="end" fill="#151515">53.9</text>
<text x="360.4" y="44.9" font-size="9.7" font-weight="bold" text-anchor="end" textLength="22.4" lengthAdjust="spacingAndGlyphs" fill="#151515">iNKT</text>
<text x="361.2" y="55.7" font-size="9.7" font-weight="bold" text-anchor="end" textLength="23.2" lengthAdjust="spacingAndGlyphs" fill="#151515">Cells</text>
<text transform="translate(100.2 101.5) scale(1 1.2)" font-size="5.3" text-anchor="middle" fill="#2a2a2a" stroke="#2a2a2a" stroke-width="0.15">0</text>
<text transform="translate(110.4 101.5) scale(1 1.2)" font-size="5.3" text-anchor="middle" fill="#2a2a2a" stroke="#2a2a2a" stroke-width="0.15">10<tspan dy="-1.9" font-size="3.8">1</tspan></text>
<text transform="translate(127.8 101.5) scale(1 1.2)" font-size="5.3" text-anchor="middle" fill="#2a2a2a" stroke="#2a2a2a" stroke-width="0.15">10<tspan dy="-1.9" font-size="3.8">2</tspan></text>
<text transform="translate(143.4 101.5) scale(1 1.2)" font-size="5.3" text-anchor="middle" fill="#2a2a2a" stroke="#2a2a2a" stroke-width="0.15">10<tspan dy="-1.9" font-size="3.8">3</tspan></text>
<text transform="translate(158.3 101.5) scale(1 1.2)" font-size="5.3" text-anchor="middle" fill="#2a2a2a" stroke="#2a2a2a" stroke-width="0.15">10<tspan dy="-1.9" font-size="3.8">4</tspan></text>
<text transform="translate(168.9 101.5) scale(1 1.2)" font-size="5.3" text-anchor="middle" fill="#2a2a2a" stroke="#2a2a2a" stroke-width="0.15">0</text>
<text transform="translate(179.1 101.5) scale(1 1.2)" font-size="5.3" text-anchor="middle" fill="#2a2a2a" stroke="#2a2a2a" stroke-width="0.15">10<tspan dy="-1.9" font-size="3.8">1</tspan></text>
<text transform="translate(196.5 101.5) scale(1 1.2)" font-size="5.3" text-anchor="middle" fill="#2a2a2a" stroke="#2a2a2a" stroke-width="0.15">10<tspan dy="-1.9" font-size="3.8">2</tspan></text>
<text transform="translate(212.1 101.5) scale(1 1.2)" font-size="5.3" text-anchor="middle" fill="#2a2a2a" stroke="#2a2a2a" stroke-width="0.15">10<tspan dy="-1.9" font-size="3.8">3</tspan></text>
<text transform="translate(227.0 101.5) scale(1 1.2)" font-size="5.3" text-anchor="middle" fill="#2a2a2a" stroke="#2a2a2a" stroke-width="0.15">10<tspan dy="-1.9" font-size="3.8">4</tspan></text>
<text transform="translate(236.8 101.5) scale(1 1.2)" font-size="5.3" text-anchor="middle" fill="#2a2a2a" stroke="#2a2a2a" stroke-width="0.15">0</text>
<text transform="translate(247.0 101.5) scale(1 1.2)" font-size="5.3" text-anchor="middle" fill="#2a2a2a" stroke="#2a2a2a" stroke-width="0.15">10<tspan dy="-1.9" font-size="3.8">1</tspan></text>
<text transform="translate(264.4 101.5) scale(1 1.2)" font-size="5.3" text-anchor="middle" fill="#2a2a2a" stroke="#2a2a2a" stroke-width="0.15">10<tspan dy="-1.9" font-size="3.8">2</tspan></text>
<text transform="translate(280.0 101.5) scale(1 1.2)" font-size="5.3" text-anchor="middle" fill="#2a2a2a" stroke="#2a2a2a" stroke-width="0.15">10<tspan dy="-1.9" font-size="3.8">3</tspan></text>
<text transform="translate(294.9 101.5) scale(1 1.2)" font-size="5.3" text-anchor="middle" fill="#2a2a2a" stroke="#2a2a2a" stroke-width="0.15">10<tspan dy="-1.9" font-size="3.8">4</tspan></text>
<text transform="translate(304.9 101.5) scale(1 1.2)" font-size="5.3" text-anchor="middle" fill="#2a2a2a" stroke="#2a2a2a" stroke-width="0.15">0</text>
<text transform="translate(315.1 101.5) scale(1 1.2)" font-size="5.3" text-anchor="middle" fill="#2a2a2a" stroke="#2a2a2a" stroke-width="0.15">10<tspan dy="-1.9" font-size="3.8">1</tspan></text>
<text transform="translate(332.5 101.5) scale(1 1.2)" font-size="5.3" text-anchor="middle" fill="#2a2a2a" stroke="#2a2a2a" stroke-width="0.15">10<tspan dy="-1.9" font-size="3.8">2</tspan></text>
<text transform="translate(348.1 101.5) scale(1 1.2)" font-size="5.3" text-anchor="middle" fill="#2a2a2a" stroke="#2a2a2a" stroke-width="0.15">10<tspan dy="-1.9" font-size="3.8">3</tspan></text>
<text transform="translate(363.0 101.5) scale(1 1.2)" font-size="5.3" text-anchor="middle" fill="#2a2a2a" stroke="#2a2a2a" stroke-width="0.15">10<tspan dy="-1.9" font-size="3.8">4</tspan></text>
<text transform="translate(87.6 26.1) scale(1 1.2)" font-size="5.3" text-anchor="end" fill="#2a2a2a" stroke="#2a2a2a" stroke-width="0.15">10<tspan dy="-1.9" font-size="3.8">4</tspan></text>
<text transform="translate(87.6 42.3) scale(1 1.2)" font-size="5.3" text-anchor="end" fill="#2a2a2a" stroke="#2a2a2a" stroke-width="0.15">10<tspan dy="-1.9" font-size="3.8">3</tspan></text>
<text transform="translate(87.6 58.5) scale(1 1.2)" font-size="5.3" text-anchor="end" fill="#2a2a2a" stroke="#2a2a2a" stroke-width="0.15">10<tspan dy="-1.9" font-size="3.8">2</tspan></text>
<text transform="translate(87.4 77.8) scale(1 1.2)" font-size="5.3" text-anchor="end" fill="#2a2a2a" stroke="#2a2a2a" stroke-width="0.15">0</text>
<text x="88.8" y="111.8" font-size="9.6" font-weight="bold" textLength="19" lengthAdjust="spacingAndGlyphs" fill="#151515">CD3</text>
<path d="M108.4 108.7H349" stroke="#111" stroke-width="2" fill="none"/>
<path d="M346.5 103.6L358.4 108.7L346.5 113.8Z" fill="#111"/>
<path d="M60.4 145V326.2" stroke="#111" stroke-width="1.5" fill="none"/>
<text x="3.1" y="253.4" font-size="9.5" font-weight="bold" textLength="49.6" lengthAdjust="spacingAndGlyphs" fill="#151515">iNKT Cells</text>
<text x="94" y="142.2" font-size="9.5" font-weight="bold" textLength="64" lengthAdjust="spacingAndGlyphs" fill="#151515">CD69 or IFN-<tspan font-family="Liberation Serif, serif" font-weight="normal" font-size="10.5">γ</tspan></text>
<text x="108.1" y="152.8" font-size="9.5" font-weight="bold" textLength="34.8" lengthAdjust="spacingAndGlyphs" fill="#151515">Isotype</text>
<text x="170.6" y="154" font-size="9.5" font-weight="bold" textLength="45.6" lengthAdjust="spacingAndGlyphs" fill="#151515">C57BL6/J</text>
<text x="242.3" y="154.2" font-size="9.5" font-weight="bold" textLength="33.4" lengthAdjust="spacingAndGlyphs" fill="#151515">NY1DD</text>
<text x="300.9" y="153.6" font-size="9.5" font-weight="bold" textLength="52.8" lengthAdjust="spacingAndGlyphs" fill="#151515">NY1DD H/R</text>
<g fill="none" stroke="#a6a6a6" stroke-width="1">
<rect x="90.5" y="157.5" width="270.1" height="67.5"/>
<line x1="158.4" y1="157.5" x2="158.4" y2="225"/>
<line x1="225.6" y1="157.5" x2="225.6" y2="225"/>
<line x1="293.0" y1="157.5" x2="293.0" y2="225"/>
</g>
<path d="M90.5 226H360.6" stroke="#8a8a8a" stroke-width="1.2" stroke-dasharray="0.7 1.6" fill="none"/>
<path d="M90.5 157.5V225H360.6" stroke="#8c8c8c" stroke-width="1" fill="none"/>
<path d="M88.5 225.0H90.5" stroke="#777" stroke-width="0.9" fill="none"/>
<path d="M88.5 204.7H90.5" stroke="#777" stroke-width="0.9" fill="none"/>
<path d="M88.5 184.4H90.5" stroke="#777" stroke-width="0.9" fill="none"/>
<path d="M88.5 164.1H90.5" stroke="#777" stroke-width="0.9" fill="none"/>
<path d="M90.5,206.6 C93.5,204.8 98.5,205 101.5,207.6 C105.5,210.6 109.0,213.6 108.1,217.6 C105.5,221.6 96.5,222 90.5,220.6 Z" fill="#d4d4d4" stroke="#050505" stroke-width="0.9" stroke-linejoin="round"/>
<g clip-path="url(#b5)" fill="none" stroke-linejoin="round">
<path d="M90.5,206.6 C93.5,204.8 98.5,205 101.5,207.6 C105.5,210.6 109.0,213.6 108.1,217.6 C105.5,221.6 96.5,222 90.5,220.6 Z" stroke="#8a8a8a" stroke-width="6"/>
<path d="M90.5,206.6 C93.5,204.8 98.5,205 101.5,207.6 C105.5,210.6 109.0,213.6 108.1,217.6 C105.5,221.6 96.5,222 90.5,220.6 Z" stroke="#444" stroke-width="4.2"/>
<path d="M90.5,206.6 C93.5,204.8 98.5,205 101.5,207.6 C105.5,210.6 109.0,213.6 108.1,217.6 C105.5,221.6 96.5,222 90.5,220.6 Z" stroke="#050505" stroke-width="2.6"/>
<ellipse cx="96.1" cy="216.2" rx="12.0" ry="8.0" fill="#858585"/>
<ellipse cx="96.1" cy="216.2" rx="10.5" ry="7.0" fill="#1c1c1c"/>
<ellipse cx="96.1" cy="216.2" rx="9.0" ry="6.0" fill="#8c8c8c"/>
<ellipse cx="96.1" cy="216.2" rx="7.5" ry="5.0" fill="#1e1e1e"/>
<ellipse cx="96.1" cy="216.2" rx="6.0" ry="4.0" fill="#909090"/>
<ellipse cx="96.1" cy="216.2" rx="4.5" ry="3.0" fill="#222"/>
<ellipse cx="96.1" cy="216.2" rx="3.0" ry="2.0" fill="#777"/>
<ellipse cx="96.1" cy="216.2" rx="1.5" ry="1.0" fill="#050505"/>
</g>
<path d="M158.4,211 C162.4,207.5 167.4,206 172.4,207.5 C178.4,208 184.4,209 189.4,213 C191.9,215.5 189.4,219 185.4,220 C176.4,222 164.4,222 158.4,219.5 Z" fill="#d4d4d4" stroke="#050505" stroke-width="0.9" stroke-linejoin="round"/>
<g clip-path="url(#b6)" fill="none" stroke-linejoin="round">
<path d="M158.4,211 C162.4,207.5 167.4,206 172.4,207.5 C178.4,208 184.4,209 189.4,213 C191.9,215.5 189.4,219 185.4,220 C176.4,222 164.4,222 158.4,219.5 Z" stroke="#8a8a8a" stroke-width="6"/>
<path d="M158.4,211 C162.4,207.5 167.4,206 172.4,207.5 C178.4,208 184.4,209 189.4,213 C191.9,215.5 189.4,219 185.4,220 C176.4,222 164.4,222 158.4,219.5 Z" stroke="#444" stroke-width="4.2"/>
<path d="M158.4,211 C162.4,207.5 167.4,206 172.4,207.5 C178.4,208 184.4,209 189.4,213 C191.9,215.5 189.4,219 185.4,220 C176.4,222 164.4,222 158.4,219.5 Z" stroke="#050505" stroke-width="2.6"/>
<ellipse cx="172.4" cy="216.2" rx="15.0" ry="7.0" fill="#858585"/>
<ellipse cx="172.4" cy="216.2" rx="13.12" ry="6.12" fill="#1c1c1c"/>
<ellipse cx="172.4" cy="216.2" rx="11.25" ry="5.25" fill="#8c8c8c"/>
<ellipse cx="172.4" cy="216.2" rx="9.38" ry="4.38" fill="#1e1e1e"/>
<ellipse cx="172.4" cy="216.2" rx="7.5" ry="3.5" fill="#909090"/>
<ellipse cx="172.4" cy="216.2" rx="5.62" ry="2.62" fill="#222"/>
<ellipse cx="172.4" cy="216.2" rx="3.75" ry="1.75" fill="#777"/>
<ellipse cx="172.4" cy="216.2" rx="1.88" ry="0.88" fill="#050505"/>
<ellipse cx="184.4" cy="214.8" rx="4.2" ry="2.8" fill="#aaa"/>
<ellipse cx="184.4" cy="214.8" rx="2.8" ry="1.87" fill="#555"/>
<ellipse cx="184.4" cy="214.8" rx="1.4" ry="0.93" fill="#aaa"/>
</g>
<path d="M225.6,212 C230.6,209 235.6,207 241.6,207.5 C249.6,207 256.6,209 260.6,213 C262.1,216 259.6,219.5 255.6,220.5 C245.6,222 231.6,222 225.6,219.5 Z" fill="#d4d4d4" stroke="#050505" stroke-width="0.9" stroke-linejoin="round"/>
<g clip-path="url(#b7)" fill="none" stroke-linejoin="round">
<path d="M225.6,212 C230.6,209 235.6,207 241.6,207.5 C249.6,207 256.6,209 260.6,213 C262.1,216 259.6,219.5 255.6,220.5 C245.6,222 231.6,222 225.6,219.5 Z" stroke="#8a8a8a" stroke-width="6"/>
<path d="M225.6,212 C230.6,209 235.6,207 241.6,207.5 C249.6,207 256.6,209 260.6,213 C262.1,216 259.6,219.5 255.6,220.5 C245.6,222 231.6,222 225.6,219.5 Z" stroke="#444" stroke-width="4.2"/>
<path d="M225.6,212 C230.6,209 235.6,207 241.6,207.5 C249.6,207 256.6,209 260.6,213 C262.1,216 259.6,219.5 255.6,220.5 C245.6,222 231.6,222 225.6,219.5 Z" stroke="#050505" stroke-width="2.6"/>
<ellipse cx="236.1" cy="215.0" rx="8.6" ry="5.4" fill="#858585"/>
<ellipse cx="236.1" cy="215.0" rx="7.17" ry="4.5" fill="#1c1c1c"/>
<ellipse cx="236.1" cy="215.0" rx="5.73" ry="3.6" fill="#8c8c8c"/>
<ellipse cx="236.1" cy="215.0" rx="4.3" ry="2.7" fill="#1e1e1e"/>
<ellipse cx="236.1" cy="215.0" rx="2.87" ry="1.8" fill="#909090"/>
<ellipse cx="236.1" cy="215.0" rx="1.43" ry="0.9" fill="#222"/>
<ellipse cx="250.6" cy="215.0" rx="9.0" ry="5.0" fill="#858585"/>
<ellipse cx="250.6" cy="215.0" rx="7.88" ry="4.38" fill="#1c1c1c"/>
<ellipse cx="250.6" cy="215.0" rx="6.75" ry="3.75" fill="#8c8c8c"/>
<ellipse cx="250.6" cy="215.0" rx="5.62" ry="3.12" fill="#1e1e1e"/>
<ellipse cx="250.6" cy="215.0" rx="4.5" ry="2.5" fill="#909090"/>
<ellipse cx="250.6" cy="215.0" rx="3.38" ry="1.88" fill="#222"/>
<ellipse cx="250.6" cy="215.0" rx="2.25" ry="1.25" fill="#777"/>
<ellipse cx="250.6" cy="215.0" rx="1.12" ry="0.62" fill="#050505"/>
</g>
<path d="M293.0,210 L295.0,208 L297.0,211 L301.0,210 L303.0,204.5 L305.5,210 C311.0,207 317.0,209 323.0,209.5 C327.0,210.5 330.0,214 328.5,218 C326.0,221.5 319.0,221.5 313.0,221.5 C305.0,222 298.0,221 294.0,218 Z" fill="#d4d4d4" stroke="#050505" stroke-width="0.9" stroke-linejoin="round"/>
<g clip-path="url(#b8)" fill="none" stroke-linejoin="round">
<path d="M293.0,210 L295.0,208 L297.0,211 L301.0,210 L303.0,204.5 L305.5,210 C311.0,207 317.0,209 323.0,209.5 C327.0,210.5 330.0,214 328.5,218 C326.0,221.5 319.0,221.5 313.0,221.5 C305.0,222 298.0,221 294.0,218 Z" stroke="#8a8a8a" stroke-width="6"/>
<path d="M293.0,210 L295.0,208 L297.0,211 L301.0,210 L303.0,204.5 L305.5,210 C311.0,207 317.0,209 323.0,209.5 C327.0,210.5 330.0,214 328.5,218 C326.0,221.5 319.0,221.5 313.0,221.5 C305.0,222 298.0,221 294.0,218 Z" stroke="#444" stroke-width="4.2"/>
<path d="M293.0,210 L295.0,208 L297.0,211 L301.0,210 L303.0,204.5 L305.5,210 C311.0,207 317.0,209 323.0,209.5 C327.0,210.5 330.0,214 328.5,218 C326.0,221.5 319.0,221.5 313.0,221.5 C305.0,222 298.0,221 294.0,218 Z" stroke="#050505" stroke-width="2.6"/>
<ellipse cx="305.5" cy="215.5" rx="8.0" ry="5.0" fill="#858585"/>
<ellipse cx="305.5" cy="215.5" rx="6.67" ry="4.17" fill="#1c1c1c"/>
<ellipse cx="305.5" cy="215.5" rx="5.33" ry="3.33" fill="#8c8c8c"/>
<ellipse cx="305.5" cy="215.5" rx="4.0" ry="2.5" fill="#1e1e1e"/>
<ellipse cx="305.5" cy="215.5" rx="2.67" ry="1.67" fill="#909090"/>
<ellipse cx="305.5" cy="215.5" rx="1.33" ry="0.83" fill="#ddd"/>
<ellipse cx="320.5" cy="215.5" rx="7.6" ry="5.0" fill="#858585"/>
<ellipse cx="320.5" cy="215.5" rx="6.33" ry="4.17" fill="#1c1c1c"/>
<ellipse cx="320.5" cy="215.5" rx="5.07" ry="3.33" fill="#8c8c8c"/>
<ellipse cx="320.5" cy="215.5" rx="3.8" ry="2.5" fill="#1e1e1e"/>
<ellipse cx="320.5" cy="215.5" rx="2.53" ry="1.67" fill="#909090"/>
<ellipse cx="320.5" cy="215.5" rx="1.27" ry="0.83" fill="#e4e4e4"/>
</g>
<g stroke="#1a1a1a" stroke-width="0.9" fill="none">
<path d="M107.5 225V202.2H158.4"/>
<path d="M174.4 225V202.2H225.6"/>
<path d="M241.6 225V202.2H293.0"/>
<path d="M309.5 225V202.2H360.6"/>
</g>
<text x="157.4" y="224.2" font-size="9.2" font-weight="bold" text-anchor="end" fill="#151515">1.08</text>
<text x="224.6" y="224.2" font-size="9.2" font-weight="bold" text-anchor="end" fill="#151515">33.6</text>
<text x="292.0" y="224.2" font-size="9.2" font-weight="bold" text-anchor="end" fill="#151515">66.9</text>
<text x="359.6" y="224.2" font-size="9.2" font-weight="bold" text-anchor="end" fill="#151515">71.7</text>
<text transform="translate(100.7 235.3) scale(1 1.2)" font-size="5.3" text-anchor="middle" fill="#2a2a2a" stroke="#2a2a2a" stroke-width="0.15">0</text>
<text transform="translate(109.7 235.3) scale(1 1.2)" font-size="5.3" text-anchor="middle" fill="#2a2a2a" stroke="#2a2a2a" stroke-width="0.15">10<tspan dy="-1.9" font-size="3.8">1</tspan></text>
<text transform="translate(128.5 235.3) scale(1 1.2)" font-size="5.3" text-anchor="middle" fill="#2a2a2a" stroke="#2a2a2a" stroke-width="0.15">10<tspan dy="-1.9" font-size="3.8">2</tspan></text>
<text transform="translate(143.9 235.3) scale(1 1.2)" font-size="5.3" text-anchor="middle" fill="#2a2a2a" stroke="#2a2a2a" stroke-width="0.15">10<tspan dy="-1.9" font-size="3.8">3</tspan></text>
<text transform="translate(158.9 235.3) scale(1 1.2)" font-size="5.3" text-anchor="middle" fill="#2a2a2a" stroke="#2a2a2a" stroke-width="0.15">10<tspan dy="-1.9" font-size="3.8">4</tspan></text>
<text transform="translate(168.6 235.3) scale(1 1.2)" font-size="5.3" text-anchor="middle" fill="#2a2a2a" stroke="#2a2a2a" stroke-width="0.15">0</text>
<text transform="translate(177.6 235.3) scale(1 1.2)" font-size="5.3" text-anchor="middle" fill="#2a2a2a" stroke="#2a2a2a" stroke-width="0.15">10<tspan dy="-1.9" font-size="3.8">1</tspan></text>
<text transform="translate(196.4 235.3) scale(1 1.2)" font-size="5.3" text-anchor="middle" fill="#2a2a2a" stroke="#2a2a2a" stroke-width="0.15">10<tspan dy="-1.9" font-size="3.8">2</tspan></text>
<text transform="translate(211.8 235.3) scale(1 1.2)" font-size="5.3" text-anchor="middle" fill="#2a2a2a" stroke="#2a2a2a" stroke-width="0.15">10<tspan dy="-1.9" font-size="3.8">3</tspan></text>
<text transform="translate(226.8 235.3) scale(1 1.2)" font-size="5.3" text-anchor="middle" fill="#2a2a2a" stroke="#2a2a2a" stroke-width="0.15">10<tspan dy="-1.9" font-size="3.8">4</tspan></text>
<text transform="translate(235.8 235.3) scale(1 1.2)" font-size="5.3" text-anchor="middle" fill="#2a2a2a" stroke="#2a2a2a" stroke-width="0.15">0</text>
<text transform="translate(244.8 235.3) scale(1 1.2)" font-size="5.3" text-anchor="middle" fill="#2a2a2a" stroke="#2a2a2a" stroke-width="0.15">10<tspan dy="-1.9" font-size="3.8">1</tspan></text>
<text transform="translate(263.6 235.3) scale(1 1.2)" font-size="5.3" text-anchor="middle" fill="#2a2a2a" stroke="#2a2a2a" stroke-width="0.15">10<tspan dy="-1.9" font-size="3.8">2</tspan></text>
<text transform="translate(279.0 235.3) scale(1 1.2)" font-size="5.3" text-anchor="middle" fill="#2a2a2a" stroke="#2a2a2a" stroke-width="0.15">10<tspan dy="-1.9" font-size="3.8">3</tspan></text>
<text transform="translate(294.0 235.3) scale(1 1.2)" font-size="5.3" text-anchor="middle" fill="#2a2a2a" stroke="#2a2a2a" stroke-width="0.15">10<tspan dy="-1.9" font-size="3.8">4</tspan></text>
<text transform="translate(303.2 235.3) scale(1 1.2)" font-size="5.3" text-anchor="middle" fill="#2a2a2a" stroke="#2a2a2a" stroke-width="0.15">0</text>
<text transform="translate(312.2 235.3) scale(1 1.2)" font-size="5.3" text-anchor="middle" fill="#2a2a2a" stroke="#2a2a2a" stroke-width="0.15">10<tspan dy="-1.9" font-size="3.8">1</tspan></text>
<text transform="translate(331.0 235.3) scale(1 1.2)" font-size="5.3" text-anchor="middle" fill="#2a2a2a" stroke="#2a2a2a" stroke-width="0.15">10<tspan dy="-1.9" font-size="3.8">2</tspan></text>
<text transform="translate(346.4 235.3) scale(1 1.2)" font-size="5.3" text-anchor="middle" fill="#2a2a2a" stroke="#2a2a2a" stroke-width="0.15">10<tspan dy="-1.9" font-size="3.8">3</tspan></text>
<text transform="translate(361.4 235.3) scale(1 1.2)" font-size="5.3" text-anchor="middle" fill="#2a2a2a" stroke="#2a2a2a" stroke-width="0.15">10<tspan dy="-1.9" font-size="3.8">4</tspan></text>
<text x="87.8" y="166.2" font-size="5.4" text-anchor="end" fill="#2a2a2a" stroke="#2a2a2a" stroke-width="0.18">30K</text>
<text x="87.8" y="186.5" font-size="5.4" text-anchor="end" fill="#2a2a2a" stroke="#2a2a2a" stroke-width="0.18">20K</text>
<text x="87.8" y="206.8" font-size="5.4" text-anchor="end" fill="#2a2a2a" stroke="#2a2a2a" stroke-width="0.18">10K</text>
<text x="87.2" y="227.3" font-size="5.4" text-anchor="end" fill="#2a2a2a" stroke="#2a2a2a" stroke-width="0.18">0</text>
<text x="74.9" y="185.3" font-size="9.5" font-weight="bold" text-anchor="middle" textLength="19.2" lengthAdjust="spacingAndGlyphs" transform="rotate(-90 74.9 185.3)" fill="#151515">SSC</text>
<text x="89.8" y="245.8" font-size="9.6" font-weight="bold" textLength="24.8" lengthAdjust="spacingAndGlyphs" fill="#151515">CD69</text>
<path d="M117 243.6H346" stroke="#111" stroke-width="2" fill="none"/>
<path d="M343.5 238.7L355 243.6L343.5 248.5Z" fill="#111"/>
<g fill="none" stroke="#a6a6a6" stroke-width="1">
<rect x="90.5" y="259.4" width="270.1" height="67.6"/>
<line x1="158.4" y1="259.4" x2="158.4" y2="327"/>
<line x1="225.6" y1="259.4" x2="225.6" y2="327"/>
<line x1="293.0" y1="259.4" x2="293.0" y2="327"/>
</g>
<path d="M90.5 328H360.6" stroke="#8a8a8a" stroke-width="1.2" stroke-dasharray="0.7 1.6" fill="none"/>
<path d="M90.5 259.4V327H360.6" stroke="#8c8c8c" stroke-width="1" fill="none"/>
<path d="M88.5 327.0H90.5" stroke="#777" stroke-width="0.9" fill="none"/>
<path d="M88.5 306.7H90.5" stroke="#777" stroke-width="0.9" fill="none"/>
<path d="M88.5 286.4H90.5" stroke="#777" stroke-width="0.9" fill="none"/>
<path d="M88.5 266.1H90.5" stroke="#777" stroke-width="0.9" fill="none"/>
<path d="M93.5,312 C95.5,308.5 100.5,306.5 105.5,307.5 C111.5,309 115.0,313 114.0,318 C112.5,322.5 105.5,324 99.5,323.5 C94.5,322.5 92.0,317 93.5,312 Z" fill="#d4d4d4" stroke="#050505" stroke-width="0.9" stroke-linejoin="round"/>
<g clip-path="url(#b9)" fill="none" stroke-linejoin="round">
<path d="M93.5,312 C95.5,308.5 100.5,306.5 105.5,307.5 C111.5,309 115.0,313 114.0,318 C112.5,322.5 105.5,324 99.5,323.5 C94.5,322.5 92.0,317 93.5,312 Z" stroke="#b4b4b4" stroke-width="4.6"/>
<path d="M93.5,312 C95.5,308.5 100.5,306.5 105.5,307.5 C111.5,309 115.0,313 114.0,318 C112.5,322.5 105.5,324 99.5,323.5 C94.5,322.5 92.0,317 93.5,312 Z" stroke="#050505" stroke-width="2.4"/>
<ellipse cx="103.3" cy="315.8" rx="9.6" ry="7.2" fill="#b4b4b4"/>
<ellipse cx="103.3" cy="315.8" rx="8.8" ry="6.6" fill="#b4b4b4"/>
<ellipse cx="103.3" cy="315.8" rx="8.0" ry="6.0" fill="#3a3a3a"/>
<ellipse cx="103.3" cy="315.8" rx="7.2" ry="5.4" fill="#8e8e8e"/>
<ellipse cx="103.3" cy="315.8" rx="6.4" ry="4.8" fill="#8e8e8e"/>
<ellipse cx="103.3" cy="315.8" rx="5.6" ry="4.2" fill="#3a3a3a"/>
<ellipse cx="103.3" cy="315.8" rx="4.8" ry="3.6" fill="#747474"/>
<ellipse cx="103.3" cy="315.8" rx="4.0" ry="3.0" fill="#747474"/>
<ellipse cx="103.3" cy="315.8" rx="3.2" ry="2.4" fill="#2e2e2e"/>
<ellipse cx="103.3" cy="315.8" rx="2.4" ry="1.8" fill="#5a5a5a"/>
<ellipse cx="103.3" cy="315.8" rx="1.6" ry="1.2" fill="#3a3a3a"/>
<ellipse cx="103.3" cy="315.8" rx="0.8" ry="0.6" fill="#050505"/>
</g>
<path d="M161.4,313 C163.4,309 169.4,306 173.4,307 L179.4,308.5 C182.4,311 182.9,316 182.4,319 C180.4,323 172.4,324 167.4,323.5 C162.4,322.5 159.9,318 161.4,313 Z" fill="#d4d4d4" stroke="#050505" stroke-width="0.9" stroke-linejoin="round"/>
<g clip-path="url(#b10)" fill="none" stroke-linejoin="round">
<path d="M161.4,313 C163.4,309 169.4,306 173.4,307 L179.4,308.5 C182.4,311 182.9,316 182.4,319 C180.4,323 172.4,324 167.4,323.5 C162.4,322.5 159.9,318 161.4,313 Z" stroke="#b4b4b4" stroke-width="4.6"/>
<path d="M161.4,313 C163.4,309 169.4,306 173.4,307 L179.4,308.5 C182.4,311 182.9,316 182.4,319 C180.4,323 172.4,324 167.4,323.5 C162.4,322.5 159.9,318 161.4,313 Z" stroke="#050505" stroke-width="2.4"/>
<ellipse cx="171.0" cy="316.3" rx="9.4" ry="6.6" fill="#b4b4b4"/>
<ellipse cx="171.0" cy="316.3" rx="8.62" ry="6.05" fill="#b4b4b4"/>
<ellipse cx="171.0" cy="316.3" rx="7.83" ry="5.5" fill="#3a3a3a"/>
<ellipse cx="171.0" cy="316.3" rx="7.05" ry="4.95" fill="#8e8e8e"/>
<ellipse cx="171.0" cy="316.3" rx="6.27" ry="4.4" fill="#8e8e8e"/>
<ellipse cx="171.0" cy="316.3" rx="5.48" ry="3.85" fill="#3a3a3a"/>
<ellipse cx="171.0" cy="316.3" rx="4.7" ry="3.3" fill="#747474"/>
<ellipse cx="171.0" cy="316.3" rx="3.92" ry="2.75" fill="#747474"/>
<ellipse cx="171.0" cy="316.3" rx="3.13" ry="2.2" fill="#2e2e2e"/>
<ellipse cx="171.0" cy="316.3" rx="2.35" ry="1.65" fill="#5a5a5a"/>
<ellipse cx="171.0" cy="316.3" rx="1.57" ry="1.1" fill="#3a3a3a"/>
<ellipse cx="171.0" cy="316.3" rx="0.78" ry="0.55" fill="#050505"/>
</g>
<path d="M182.4,319 C185.4,317.5 189.4,318 192.4,320.5 C190.4,323 185.4,323.5 182.4,322 Z" fill="#c4c4c4" stroke="#111" stroke-width="0.9"/>
<path d="M229.6,313 C231.6,310 235.6,308.5 238.1,309 L238.6,306.5 L241.6,308 C245.6,309.5 247.1,313 246.6,317 C244.6,321.5 238.6,322.5 234.6,322 C230.1,321 228.1,317 229.6,313 Z" fill="#d4d4d4" stroke="#050505" stroke-width="0.9" stroke-linejoin="round"/>
<g clip-path="url(#b11)" fill="none" stroke-linejoin="round">
<path d="M229.6,313 C231.6,310 235.6,308.5 238.1,309 L238.6,306.5 L241.6,308 C245.6,309.5 247.1,313 246.6,317 C244.6,321.5 238.6,322.5 234.6,322 C230.1,321 228.1,317 229.6,313 Z" stroke="#b4b4b4" stroke-width="4.6"/>
<path d="M229.6,313 C231.6,310 235.6,308.5 238.1,309 L238.6,306.5 L241.6,308 C245.6,309.5 247.1,313 246.6,317 C244.6,321.5 238.6,322.5 234.6,322 C230.1,321 228.1,317 229.6,313 Z" stroke="#050505" stroke-width="2.4"/>
<ellipse cx="237.9" cy="316.0" rx="8.2" ry="5.8" fill="#b4b4b4"/>
<ellipse cx="237.9" cy="316.0" rx="7.52" ry="5.32" fill="#b4b4b4"/>
<ellipse cx="237.9" cy="316.0" rx="6.83" ry="4.83" fill="#3a3a3a"/>
<ellipse cx="237.9" cy="316.0" rx="6.15" ry="4.35" fill="#8e8e8e"/>
<ellipse cx="237.9" cy="316.0" rx="5.47" ry="3.87" fill="#8e8e8e"/>
<ellipse cx="237.9" cy="316.0" rx="4.78" ry="3.38" fill="#3a3a3a"/>
<ellipse cx="237.9" cy="316.0" rx="4.1" ry="2.9" fill="#747474"/>
<ellipse cx="237.9" cy="316.0" rx="3.42" ry="2.42" fill="#747474"/>
<ellipse cx="237.9" cy="316.0" rx="2.73" ry="1.93" fill="#2e2e2e"/>
<ellipse cx="237.9" cy="316.0" rx="2.05" ry="1.45" fill="#5a5a5a"/>
<ellipse cx="237.9" cy="316.0" rx="1.37" ry="0.97" fill="#3a3a3a"/>
<ellipse cx="237.9" cy="316.0" rx="0.68" ry="0.48" fill="#050505"/>
</g>
<path d="M249.9,317 L252.6,315.5 C255.6,312 261.6,311.5 265.6,313.5 C269.1,315.5 269.1,319 266.6,321 C262.6,323 255.6,322.5 253.1,320.5 Z" fill="#d4d4d4" stroke="#050505" stroke-width="0.9" stroke-linejoin="round"/>
<g clip-path="url(#b12)" fill="none" stroke-linejoin="round">
<path d="M249.9,317 L252.6,315.5 C255.6,312 261.6,311.5 265.6,313.5 C269.1,315.5 269.1,319 266.6,321 C262.6,323 255.6,322.5 253.1,320.5 Z" stroke="#b4b4b4" stroke-width="4.6"/>
<path d="M249.9,317 L252.6,315.5 C255.6,312 261.6,311.5 265.6,313.5 C269.1,315.5 269.1,319 266.6,321 C262.6,323 255.6,322.5 253.1,320.5 Z" stroke="#050505" stroke-width="2.4"/>
<ellipse cx="260.1" cy="317.3" rx="8.0" ry="4.6" fill="#b4b4b4"/>
<ellipse cx="260.1" cy="317.3" rx="7.33" ry="4.22" fill="#b4b4b4"/>
<ellipse cx="260.1" cy="317.3" rx="6.67" ry="3.83" fill="#3a3a3a"/>
<ellipse cx="260.1" cy="317.3" rx="6.0" ry="3.45" fill="#8e8e8e"/>
<ellipse cx="260.1" cy="317.3" rx="5.33" ry="3.07" fill="#8e8e8e"/>
<ellipse cx="260.1" cy="317.3" rx="4.67" ry="2.68" fill="#3a3a3a"/>
<ellipse cx="260.1" cy="317.3" rx="4.0" ry="2.3" fill="#747474"/>
<ellipse cx="260.1" cy="317.3" rx="3.33" ry="1.92" fill="#747474"/>
<ellipse cx="260.1" cy="317.3" rx="2.67" ry="1.53" fill="#2e2e2e"/>
<ellipse cx="260.1" cy="317.3" rx="2.0" ry="1.15" fill="#5a5a5a"/>
<ellipse cx="260.1" cy="317.3" rx="1.33" ry="0.77" fill="#3a3a3a"/>
<ellipse cx="260.1" cy="317.3" rx="0.67" ry="0.38" fill="#050505"/>
</g>
<path d="M298.0,313 C300.0,310 303.0,309 305.0,309 L305.3,305.5 L308.5,308 C312.5,309.5 314.0,313 313.5,317 C312.0,321.5 306.0,322.5 302.5,322 C298.5,321 296.5,317 298.0,313 Z" fill="#d4d4d4" stroke="#050505" stroke-width="0.9" stroke-linejoin="round"/>
<g clip-path="url(#b13)" fill="none" stroke-linejoin="round">
<path d="M298.0,313 C300.0,310 303.0,309 305.0,309 L305.3,305.5 L308.5,308 C312.5,309.5 314.0,313 313.5,317 C312.0,321.5 306.0,322.5 302.5,322 C298.5,321 296.5,317 298.0,313 Z" stroke="#b4b4b4" stroke-width="4.6"/>
<path d="M298.0,313 C300.0,310 303.0,309 305.0,309 L305.3,305.5 L308.5,308 C312.5,309.5 314.0,313 313.5,317 C312.0,321.5 306.0,322.5 302.5,322 C298.5,321 296.5,317 298.0,313 Z" stroke="#050505" stroke-width="2.4"/>
<ellipse cx="305.5" cy="316.0" rx="7.8" ry="5.8" fill="#b4b4b4"/>
<ellipse cx="305.5" cy="316.0" rx="7.15" ry="5.32" fill="#b4b4b4"/>
<ellipse cx="305.5" cy="316.0" rx="6.5" ry="4.83" fill="#3a3a3a"/>
<ellipse cx="305.5" cy="316.0" rx="5.85" ry="4.35" fill="#8e8e8e"/>
<ellipse cx="305.5" cy="316.0" rx="5.2" ry="3.87" fill="#8e8e8e"/>
<ellipse cx="305.5" cy="316.0" rx="4.55" ry="3.38" fill="#3a3a3a"/>
<ellipse cx="305.5" cy="316.0" rx="3.9" ry="2.9" fill="#747474"/>
<ellipse cx="305.5" cy="316.0" rx="3.25" ry="2.42" fill="#747474"/>
<ellipse cx="305.5" cy="316.0" rx="2.6" ry="1.93" fill="#2e2e2e"/>
<ellipse cx="305.5" cy="316.0" rx="1.95" ry="1.45" fill="#5a5a5a"/>
<ellipse cx="305.5" cy="316.0" rx="1.3" ry="0.97" fill="#3a3a3a"/>
<ellipse cx="305.5" cy="316.0" rx="0.65" ry="0.48" fill="#050505"/>
</g>
<path d="M318.3,316.5 C320.0,312.5 326.0,310 331.0,311 C336.0,312.5 337.5,317 335.5,320 C332.0,323.5 324.0,323.5 320.5,321.5 C318.5,320 317.8,318 318.3,316.5 Z" fill="#d4d4d4" stroke="#050505" stroke-width="0.9" stroke-linejoin="round"/>
<g clip-path="url(#b14)" fill="none" stroke-linejoin="round">
<path d="M318.3,316.5 C320.0,312.5 326.0,310 331.0,311 C336.0,312.5 337.5,317 335.5,320 C332.0,323.5 324.0,323.5 320.5,321.5 C318.5,320 317.8,318 318.3,316.5 Z" stroke="#b4b4b4" stroke-width="4.6"/>
<path d="M318.3,316.5 C320.0,312.5 326.0,310 331.0,311 C336.0,312.5 337.5,317 335.5,320 C332.0,323.5 324.0,323.5 320.5,321.5 C318.5,320 317.8,318 318.3,316.5 Z" stroke="#050505" stroke-width="2.4"/>
<ellipse cx="327.8" cy="317.0" rx="8.8" ry="5.8" fill="#b4b4b4"/>
<ellipse cx="327.8" cy="317.0" rx="8.07" ry="5.32" fill="#b4b4b4"/>
<ellipse cx="327.8" cy="317.0" rx="7.33" ry="4.83" fill="#3a3a3a"/>
<ellipse cx="327.8" cy="317.0" rx="6.6" ry="4.35" fill="#8e8e8e"/>
<ellipse cx="327.8" cy="317.0" rx="5.87" ry="3.87" fill="#8e8e8e"/>
<ellipse cx="327.8" cy="317.0" rx="5.13" ry="3.38" fill="#3a3a3a"/>
<ellipse cx="327.8" cy="317.0" rx="4.4" ry="2.9" fill="#747474"/>
<ellipse cx="327.8" cy="317.0" rx="3.67" ry="2.42" fill="#747474"/>
<ellipse cx="327.8" cy="317.0" rx="2.93" ry="1.93" fill="#2e2e2e"/>
<ellipse cx="327.8" cy="317.0" rx="2.2" ry="1.45" fill="#5a5a5a"/>
<ellipse cx="327.8" cy="317.0" rx="1.47" ry="0.97" fill="#3a3a3a"/>
<ellipse cx="327.8" cy="317.0" rx="0.73" ry="0.48" fill="#050505"/>
</g>
<g stroke="#1a1a1a" stroke-width="0.9" fill="none">
<path d="M114.5 327V304H158.4"/>
<path d="M182.5 327V304H225.6"/>
<path d="M249.7 327V304H293.0"/>
<path d="M317.5 327V304H360.6"/>
</g>
<text x="157.4" y="326.2" font-size="9.2" font-weight="bold" text-anchor="end" fill="#151515">0.91</text>
<text x="224.6" y="326.2" font-size="9.2" font-weight="bold" text-anchor="end" fill="#151515">3.29</text>
<text x="292.0" y="326.2" font-size="9.2" font-weight="bold" text-anchor="end" fill="#151515">31.5</text>
<text x="359.6" y="326.2" font-size="9.2" font-weight="bold" text-anchor="end" fill="#151515">54.9</text>
<text transform="translate(101.9 337.4) scale(1 1.2)" font-size="5.3" text-anchor="middle" fill="#2a2a2a" stroke="#2a2a2a" stroke-width="0.15">0</text>
<text transform="translate(110.1 337.4) scale(1 1.2)" font-size="5.3" text-anchor="middle" fill="#2a2a2a" stroke="#2a2a2a" stroke-width="0.15">10<tspan dy="-1.9" font-size="3.8">1</tspan></text>
<text transform="translate(127.5 337.4) scale(1 1.2)" font-size="5.3" text-anchor="middle" fill="#2a2a2a" stroke="#2a2a2a" stroke-width="0.15">10<tspan dy="-1.9" font-size="3.8">2</tspan></text>
<text transform="translate(143.9 337.4) scale(1 1.2)" font-size="5.3" text-anchor="middle" fill="#2a2a2a" stroke="#2a2a2a" stroke-width="0.15">10<tspan dy="-1.9" font-size="3.8">3</tspan></text>
<text transform="translate(158.5 337.4) scale(1 1.2)" font-size="5.3" text-anchor="middle" fill="#2a2a2a" stroke="#2a2a2a" stroke-width="0.15">10<tspan dy="-1.9" font-size="3.8">4</tspan></text>
<text transform="translate(169.8 337.4) scale(1 1.2)" font-size="5.3" text-anchor="middle" fill="#2a2a2a" stroke="#2a2a2a" stroke-width="0.15">0</text>
<text transform="translate(178.0 337.4) scale(1 1.2)" font-size="5.3" text-anchor="middle" fill="#2a2a2a" stroke="#2a2a2a" stroke-width="0.15">10<tspan dy="-1.9" font-size="3.8">1</tspan></text>
<text transform="translate(195.4 337.4) scale(1 1.2)" font-size="5.3" text-anchor="middle" fill="#2a2a2a" stroke="#2a2a2a" stroke-width="0.15">10<tspan dy="-1.9" font-size="3.8">2</tspan></text>
<text transform="translate(211.8 337.4) scale(1 1.2)" font-size="5.3" text-anchor="middle" fill="#2a2a2a" stroke="#2a2a2a" stroke-width="0.15">10<tspan dy="-1.9" font-size="3.8">3</tspan></text>
<text transform="translate(226.4 337.4) scale(1 1.2)" font-size="5.3" text-anchor="middle" fill="#2a2a2a" stroke="#2a2a2a" stroke-width="0.15">10<tspan dy="-1.9" font-size="3.8">4</tspan></text>
<text transform="translate(237.0 337.4) scale(1 1.2)" font-size="5.3" text-anchor="middle" fill="#2a2a2a" stroke="#2a2a2a" stroke-width="0.15">0</text>
<text transform="translate(245.2 337.4) scale(1 1.2)" font-size="5.3" text-anchor="middle" fill="#2a2a2a" stroke="#2a2a2a" stroke-width="0.15">10<tspan dy="-1.9" font-size="3.8">1</tspan></text>
<text transform="translate(262.6 337.4) scale(1 1.2)" font-size="5.3" text-anchor="middle" fill="#2a2a2a" stroke="#2a2a2a" stroke-width="0.15">10<tspan dy="-1.9" font-size="3.8">2</tspan></text>
<text transform="translate(279.0 337.4) scale(1 1.2)" font-size="5.3" text-anchor="middle" fill="#2a2a2a" stroke="#2a2a2a" stroke-width="0.15">10<tspan dy="-1.9" font-size="3.8">3</tspan></text>
<text transform="translate(293.6 337.4) scale(1 1.2)" font-size="5.3" text-anchor="middle" fill="#2a2a2a" stroke="#2a2a2a" stroke-width="0.15">10<tspan dy="-1.9" font-size="3.8">4</tspan></text>
<text transform="translate(304.4 337.4) scale(1 1.2)" font-size="5.3" text-anchor="middle" fill="#2a2a2a" stroke="#2a2a2a" stroke-width="0.15">0</text>
<text transform="translate(312.6 337.4) scale(1 1.2)" font-size="5.3" text-anchor="middle" fill="#2a2a2a" stroke="#2a2a2a" stroke-width="0.15">10<tspan dy="-1.9" font-size="3.8">1</tspan></text>
<text transform="translate(330.0 337.4) scale(1 1.2)" font-size="5.3" text-anchor="middle" fill="#2a2a2a" stroke="#2a2a2a" stroke-width="0.15">10<tspan dy="-1.9" font-size="3.8">2</tspan></text>
<text transform="translate(346.4 337.4) scale(1 1.2)" font-size="5.3" text-anchor="middle" fill="#2a2a2a" stroke="#2a2a2a" stroke-width="0.15">10<tspan dy="-1.9" font-size="3.8">3</tspan></text>
<text transform="translate(361.0 337.4) scale(1 1.2)" font-size="5.3" text-anchor="middle" fill="#2a2a2a" stroke="#2a2a2a" stroke-width="0.15">10<tspan dy="-1.9" font-size="3.8">4</tspan></text>
<text x="87.8" y="268.1" font-size="5.4" text-anchor="end" fill="#2a2a2a" stroke="#2a2a2a" stroke-width="0.18">30K</text>
<text x="87.8" y="288.4" font-size="5.4" text-anchor="end" fill="#2a2a2a" stroke="#2a2a2a" stroke-width="0.18">20K</text>
<text x="87.8" y="308.7" font-size="5.4" text-anchor="end" fill="#2a2a2a" stroke="#2a2a2a" stroke-width="0.18">10K</text>
<text x="87.2" y="329.3" font-size="5.4" text-anchor="end" fill="#2a2a2a" stroke="#2a2a2a" stroke-width="0.18">0</text>
<text x="73.3" y="291.7" font-size="9.5" font-weight="bold" text-anchor="middle" textLength="19.2" lengthAdjust="spacingAndGlyphs" transform="rotate(-90 73.3 291.7)" fill="#151515">SSC</text>
<text x="88.3" y="346.2" font-size="9.6" font-weight="bold" textLength="20" lengthAdjust="spacingAndGlyphs" fill="#151515">IFN<tspan font-family="Liberation Serif, serif" font-weight="normal" font-size="11">γ</tspan></text>
<path d="M111 343.4H348" stroke="#111" stroke-width="2" fill="none"/>
<path d="M345.5 338.4L357 343.4L345.5 348.4Z" fill="#111"/>
<rect x="418.6" y="6.6" width="10.2" height="5.2" fill="#fff" stroke="#111" stroke-width="1.1"/>
<rect x="418.6" y="16.8" width="10.2" height="5.4" fill="#111" stroke="#111" stroke-width="1.1"/>
<rect x="418.6" y="27.3" width="10.2" height="5.4" fill="url(#ck)" stroke="#111" stroke-width="1.1"/>
<text x="434" y="12.2" font-size="8" fill="#333">C57BL/6</text>
<text x="434" y="22.8" font-size="8" fill="#333">NY1DD</text>
<text x="434" y="33.2" font-size="8" textLength="43" lengthAdjust="spacingAndGlyphs" fill="#333">NY1DD H/R</text>
<path d="M445 53.4H401.2V148.8H445M454.3 53.4H496.8V148.8H454.3" stroke="#111" stroke-width="1.4" fill="none"/>
<path d="M409.85 135.4V133.5M406.25 133.5H413.45" stroke="#111" stroke-width="1.3" fill="none"/>
<rect x="403.8" y="135.4" width="12.1" height="13.4" fill="#fff" stroke="#111" stroke-width="1.3"/>
<path d="M409.85 148.8v3" stroke="#111" stroke-width="1.1" fill="none"/>
<path d="M422.0 123.8V121.4M418.4 121.4H425.6" stroke="#111" stroke-width="1.3" fill="none"/>
<rect x="415.9" y="123.8" width="12.2" height="25.0" fill="#111" stroke="#111" stroke-width="1.3"/>
<path d="M422.0 148.8v3" stroke="#111" stroke-width="1.1" fill="none"/>
<text x="422.0" y="119.6" font-size="9" font-weight="bold" text-anchor="middle" fill="#222">*</text>
<path d="M434.15 94.6V81.1M430.55 81.1H437.75" stroke="#111" stroke-width="1.3" fill="none"/>
<rect x="428.1" y="94.6" width="12.1" height="54.2" fill="url(#ck)" stroke="#111" stroke-width="1.3"/>
<path d="M434.15 148.8v3" stroke="#111" stroke-width="1.1" fill="none"/>
<text x="434.15" y="79.2" font-size="9" font-weight="bold" text-anchor="middle" fill="#222">*</text>
<path d="M463.45 126V124.8M459.85 124.8H467.05" stroke="#111" stroke-width="1.3" fill="none"/>
<rect x="457.4" y="126" width="12.1" height="22.8" fill="#fff" stroke="#111" stroke-width="1.3"/>
<path d="M463.45 148.8v3" stroke="#111" stroke-width="1.1" fill="none"/>
<path d="M475.65 90.8V83.6M472.05 83.6H479.25" stroke="#111" stroke-width="1.3" fill="none"/>
<rect x="469.5" y="90.8" width="12.3" height="58.0" fill="#111" stroke="#111" stroke-width="1.3"/>
<path d="M475.65 148.8v3" stroke="#111" stroke-width="1.1" fill="none"/>
<text x="475.65" y="82.8" font-size="9" font-weight="bold" text-anchor="middle" fill="#222">*</text>
<path d="M487.85 75.9V66.5M484.25 66.5H491.45" stroke="#111" stroke-width="1.3" fill="none"/>
<rect x="481.8" y="75.9" width="12.1" height="72.9" fill="url(#ck)" stroke="#111" stroke-width="1.3"/>
<path d="M487.85 148.8v3" stroke="#111" stroke-width="1.1" fill="none"/>
<path d="M398.2 148.8H401.2" stroke="#111" stroke-width="1.4" fill="none"/>
<text x="397.6" y="151.2" font-size="6.6" font-weight="bold" text-anchor="end" fill="#222">0</text>
<path d="M398.2 117.0H401.2" stroke="#111" stroke-width="1.4" fill="none"/>
<text x="397.6" y="119.4" font-size="6.6" font-weight="bold" text-anchor="end" fill="#222">5</text>
<path d="M398.2 85.2H401.2" stroke="#111" stroke-width="1.4" fill="none"/>
<text x="397.6" y="87.6" font-size="6.6" font-weight="bold" text-anchor="end" fill="#222">10</text>
<path d="M398.2 53.4H401.2" stroke="#111" stroke-width="1.4" fill="none"/>
<text x="397.6" y="55.8" font-size="6.6" font-weight="bold" text-anchor="end" fill="#222">15</text>
<path d="M496.8 148.8H500.0" stroke="#111" stroke-width="1.4" fill="none"/>
<text x="501.4" y="151.2" font-size="6.6" font-weight="bold" fill="#222">0</text>
<path d="M496.8 131.4H500.0" stroke="#111" stroke-width="1.4" fill="none"/>
<text x="501.4" y="133.8" font-size="6.6" font-weight="bold" fill="#222">1</text>
<path d="M496.8 113.9H500.0" stroke="#111" stroke-width="1.4" fill="none"/>
<text x="501.4" y="116.3" font-size="6.6" font-weight="bold" fill="#222">2</text>
<path d="M496.8 96.5H500.0" stroke="#111" stroke-width="1.4" fill="none"/>
<text x="501.4" y="98.9" font-size="6.6" font-weight="bold" fill="#222">3</text>
<path d="M496.8 79.0H500.0" stroke="#111" stroke-width="1.4" fill="none"/>
<text x="501.4" y="81.4" font-size="6.6" font-weight="bold" fill="#222">4</text>
<path d="M496.8 61.6H500.0" stroke="#111" stroke-width="1.4" fill="none"/>
<text x="501.4" y="64.0" font-size="6.6" font-weight="bold" fill="#222">5</text>
<text x="385.3" y="102" font-size="7.6" font-weight="bold" text-anchor="middle" textLength="71.5" lengthAdjust="spacingAndGlyphs" transform="rotate(-90 385.3 102)" fill="#222"># iNKT cells (X 10<tspan dy="-2.6" font-size="4.8">4</tspan><tspan dy="2.6">)</tspan></text>
<text x="509.2" y="101" font-size="7.6" font-weight="bold" text-anchor="middle" textLength="83.5" lengthAdjust="spacingAndGlyphs" transform="rotate(90 509.2 101)" fill="#222">% Tetramer<tspan dy="-2.6" font-size="5">+</tspan><tspan dy="2.6"> Lymphos</tspan></text>
<text x="392.6" y="159.9" font-size="10.6" fill="#111" stroke="#111" stroke-width="0.3">n=</text>
<text x="410.3" y="158.3" font-size="6.6" font-weight="bold" text-anchor="middle" fill="#222">21</text>
<text x="422.2" y="158.3" font-size="6.6" font-weight="bold" text-anchor="middle" fill="#222">17</text>
<text x="434.3" y="158.3" font-size="6.6" font-weight="bold" text-anchor="middle" fill="#222">4</text>
<text x="464" y="158.3" font-size="6.6" font-weight="bold" text-anchor="middle" fill="#222">15</text>
<text x="475.8" y="158.3" font-size="6.6" font-weight="bold" text-anchor="middle" fill="#222">16</text>
<text x="487.5" y="158.3" font-size="6.6" font-weight="bold" text-anchor="middle" fill="#222">4</text>
<path d="M444.8 188.3H399.4V284.6H444.8M454.3 188.3H496.8V284.6H456" stroke="#111" stroke-width="1.4" fill="none"/>
<path d="M408.9 246.3V241.4M405.3 241.4H412.5" stroke="#111" stroke-width="1.3" fill="none"/>
<rect x="402.8" y="246.3" width="12.2" height="38.3" fill="#fff" stroke="#111" stroke-width="1.3"/>
<path d="M408.9 284.6v3" stroke="#111" stroke-width="1.1" fill="none"/>
<path d="M421.1 219.6V218.8M417.5 218.8H424.7" stroke="#111" stroke-width="1.3" fill="none"/>
<rect x="415" y="219.6" width="12.2" height="65.0" fill="#111" stroke="#111" stroke-width="1.3"/>
<path d="M421.1 284.6v3" stroke="#111" stroke-width="1.1" fill="none"/>
<text x="421.1" y="217.0" font-size="9" font-weight="bold" text-anchor="middle" fill="#222">*</text>
<path d="M433.35 211.2V209.8M429.75 209.8H436.95" stroke="#111" stroke-width="1.3" fill="none"/>
<rect x="427.2" y="211.2" width="12.3" height="73.4" fill="url(#ck)" stroke="#111" stroke-width="1.3"/>
<path d="M433.35 284.6v3" stroke="#111" stroke-width="1.1" fill="none"/>
<path d="M463.5 277.6V276.2M459.9 276.2H467.1" stroke="#111" stroke-width="1.3" fill="none"/>
<rect x="457.4" y="277.6" width="12.2" height="7.0" fill="#fff" stroke="#111" stroke-width="1.3"/>
<path d="M463.5 284.6v3" stroke="#111" stroke-width="1.1" fill="none"/>
<path d="M475.75 224.8V217.6M472.15 217.6H479.35" stroke="#111" stroke-width="1.3" fill="none"/>
<rect x="469.6" y="224.8" width="12.3" height="59.8" fill="#111" stroke="#111" stroke-width="1.3"/>
<path d="M475.75 284.6v3" stroke="#111" stroke-width="1.1" fill="none"/>
<text x="475.75" y="217.4" font-size="9" font-weight="bold" text-anchor="middle" fill="#222">*</text>
<path d="M487.95 208.4V202.6M484.35 202.6H491.55" stroke="#111" stroke-width="1.3" fill="none"/>
<rect x="481.9" y="208.4" width="12.1" height="76.2" fill="url(#ck)" stroke="#111" stroke-width="1.3"/>
<path d="M487.95 284.6v3" stroke="#111" stroke-width="1.1" fill="none"/>
<path d="M396.4 284.6H399.4" stroke="#111" stroke-width="1.4" fill="none"/>
<text x="395.8" y="287.0" font-size="6.6" font-weight="bold" text-anchor="end" fill="#222">0</text>
<path d="M396.4 265.3H399.4" stroke="#111" stroke-width="1.4" fill="none"/>
<text x="395.8" y="267.7" font-size="6.6" font-weight="bold" text-anchor="end" fill="#222">20</text>
<path d="M396.4 246.1H399.4" stroke="#111" stroke-width="1.4" fill="none"/>
<text x="395.8" y="248.5" font-size="6.6" font-weight="bold" text-anchor="end" fill="#222">40</text>
<path d="M396.4 226.8H399.4" stroke="#111" stroke-width="1.4" fill="none"/>
<text x="395.8" y="229.2" font-size="6.6" font-weight="bold" text-anchor="end" fill="#222">60</text>
<path d="M396.4 207.6H399.4" stroke="#111" stroke-width="1.4" fill="none"/>
<text x="395.8" y="210.0" font-size="6.6" font-weight="bold" text-anchor="end" fill="#222">80</text>
<path d="M396.4 188.3H399.4" stroke="#111" stroke-width="1.4" fill="none"/>
<text x="395.8" y="190.7" font-size="6.6" font-weight="bold" text-anchor="end" fill="#222">100</text>
<path d="M496.8 284.6H500.0" stroke="#111" stroke-width="1.4" fill="none"/>
<text x="501.4" y="287.0" font-size="6.6" font-weight="bold" fill="#222">0</text>
<path d="M496.8 252.5H500.0" stroke="#111" stroke-width="1.4" fill="none"/>
<text x="501.4" y="254.9" font-size="6.6" font-weight="bold" fill="#222">20</text>
<path d="M496.8 220.4H500.0" stroke="#111" stroke-width="1.4" fill="none"/>
<text x="501.4" y="222.8" font-size="6.6" font-weight="bold" fill="#222">40</text>
<path d="M496.8 188.3H500.0" stroke="#111" stroke-width="1.4" fill="none"/>
<text x="501.4" y="190.7" font-size="6.6" font-weight="bold" fill="#222">60</text>
<text x="382.2" y="237.2" font-size="7.8" font-weight="bold" text-anchor="middle" textLength="35" lengthAdjust="spacingAndGlyphs" transform="rotate(-90 382.2 237.2)" fill="#222">% CD69<tspan dy="-2.6" font-size="5">+</tspan></text>
<text x="511" y="228.8" font-size="7.8" font-weight="bold" text-anchor="middle" textLength="30.5" lengthAdjust="spacingAndGlyphs" transform="rotate(90 511 228.8)" fill="#222">% IFN<tspan font-size="8.2">γ</tspan><tspan dy="-2.6" font-size="5">+</tspan></text>
<text x="392" y="294.6" font-size="10.6" fill="#111" stroke="#111" stroke-width="0.3">n=</text>
<text x="408.9" y="293.9" font-size="6.6" font-weight="bold" text-anchor="middle" fill="#222">13</text>
<text x="420.8" y="293.9" font-size="6.6" font-weight="bold" text-anchor="middle" fill="#222">8</text>
<text x="433.3" y="293.9" font-size="6.6" font-weight="bold" text-anchor="middle" fill="#222">4</text>
<text x="463.5" y="293.9" font-size="6.6" font-weight="bold" text-anchor="middle" fill="#222">8</text>
<text x="475.4" y="293.9" font-size="6.6" font-weight="bold" text-anchor="middle" fill="#222">8</text>
<text x="487.4" y="293.9" font-size="6.6" font-weight="bold" text-anchor="middle" fill="#222">4</text>
</svg>
</body>
</html>
